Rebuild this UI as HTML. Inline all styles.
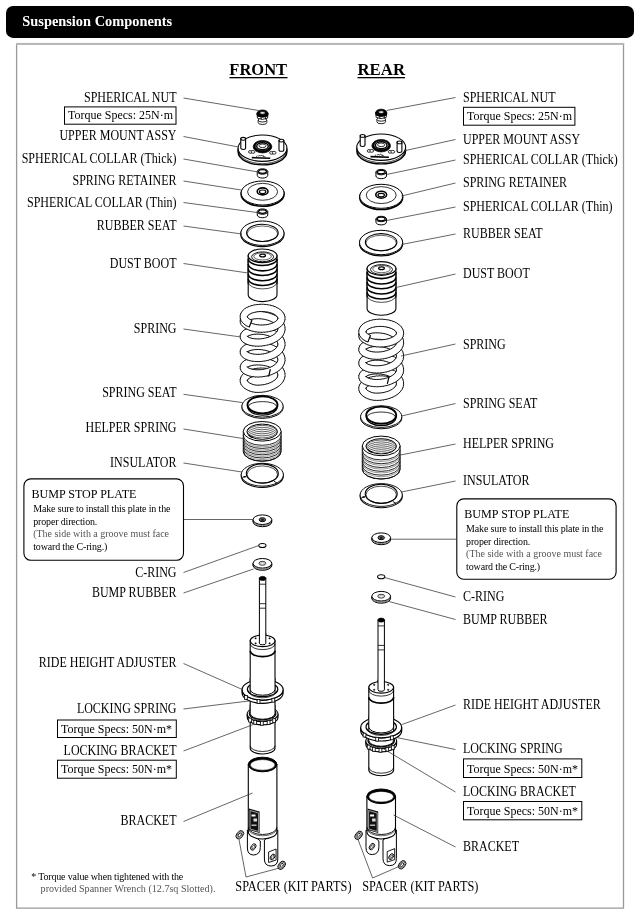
<!DOCTYPE html>
<html><head><meta charset="utf-8"><style>
html,body{margin:0;padding:0;background:#fff;}
body{width:640px;height:915px;overflow:hidden;}
svg{display:block;filter:grayscale(1);}
text{font-family:"Liberation Serif",serif;}
</style></head><body>
<svg width="640" height="915" viewBox="0 0 640 915">
<rect width="640" height="915" fill="#fff"/>
<rect x="6" y="6" width="628" height="31.9" rx="7" ry="7" fill="#000"/>
<text transform="translate(22.3,25.9) scale(1,1.08)" font-size="14.4" text-anchor="start" font-weight="bold" fill="#fff" >Suspension Components</text>
<path d="M16.6,44.2 L623.5,44.2 L623.5,908.2 L16.6,908.2 Z" fill="none" stroke="#999" stroke-width="1.3"/>
<rect x="16" y="42.9" width="608.2" height="2.1" fill="#b8b8b8"/>
<text x="229.3" y="75.3" font-size="16.5" text-anchor="start" font-weight="bold" fill="#000" >FRONT</text>
<rect x="229.5" y="77" width="58" height="1.3" fill="#000"/>
<text x="357.5" y="75.3" font-size="16.8" text-anchor="start" font-weight="bold" fill="#000" >REAR</text>
<rect x="357.5" y="77" width="47.5" height="1.3" fill="#000"/>
<path d="M258.2,120.1 L258.2,122.6 A4.3,1.9 0 0 0 266.8,122.6 L266.8,120.1 Z" fill="#fff" stroke="#000" stroke-width="0.85" />
<ellipse cx="262.5" cy="120.1" rx="4.3" ry="1.9" fill="#fff" stroke="#000" stroke-width="0.85" />
<path d="M256.9,113.6 L257.5,118.2 Q262.5,120.6 267.5,118.2 L268.1,113.6 Z" fill="#fff" stroke="#000" stroke-width="0.85" />
<path d="M261,116.5 L261.2,119.6 M265.7,116.3 L265.5,119.2" fill="none" stroke="#000" stroke-width="0.8" />
<path d="M256.9,113.6 L257.1,116.2 Q262.5,118 267.9,116.2 L268.1,113.6 Z" fill="#000"/>
<ellipse cx="262.5" cy="113.6" rx="5.6" ry="3.6" fill="#000" stroke="#000" stroke-width="0.8" />
<ellipse cx="262.5" cy="112.9" rx="2.8" ry="1.3" fill="#fff" stroke="#000" stroke-width="0.8" />
<ellipse cx="262.5" cy="151.7" rx="24.4" ry="13.2" fill="#fff" stroke="#000" stroke-width="1.4" />
<path d="M238.1,148.2 L238.1,151.7 M286.9,148.2 L286.9,151.7" fill="none" stroke="#000" stroke-width="1" />
<path d="M238.1,151.7 L238.1,148.2 A24.4,13.2 0 0 0 286.9,148.2 L286.9,151.7" fill="#fff" stroke="none"/>
<ellipse cx="262.5" cy="148.2" rx="24.4" ry="13.2" fill="#fff" stroke="#000" stroke-width="1.1" />
<path d="M238.4,150.4 A24.1,13.2 0 0 0 286.6,150.4" fill="none" stroke="#000" stroke-width="0.7" />
<path d="M240.8,138.8 L240.8,148.1 A2.4,1.4 0 0 0 245.6,148.1 L245.6,138.8 Z" fill="#fff" stroke="#000" stroke-width="1.1" />
<ellipse cx="243.2" cy="138.8" rx="2.4" ry="1.4" fill="#fff" stroke="#000" stroke-width="1.1" />
<path d="M279,140.6 L279,149.9 A2.4,1.4 0 0 0 283.8,149.9 L283.8,140.6 Z" fill="#fff" stroke="#000" stroke-width="1.1" />
<ellipse cx="281.4" cy="140.6" rx="2.4" ry="1.4" fill="#fff" stroke="#000" stroke-width="1.1" />
<ellipse cx="262.5" cy="146.7" rx="9.3" ry="6.2" fill="#000" stroke="#000" stroke-width="0.8" />
<ellipse cx="262.5" cy="146.2" rx="7.2" ry="4.4" fill="#fff" stroke="#000" stroke-width="0.8" />
<ellipse cx="262.5" cy="146.2" rx="5.8" ry="3.4" fill="#fff" stroke="#000" stroke-width="1.4" />
<ellipse cx="262.5" cy="145.8" rx="3.6" ry="1.8" fill="#fff" stroke="#000" stroke-width="0.8" />
<ellipse cx="250.4" cy="151.9" rx="1.9" ry="1.4" fill="#fff" stroke="#000" stroke-width="0.8" />
<ellipse cx="253" cy="151.9" rx="1.9" ry="1.4" fill="#fff" stroke="#000" stroke-width="0.8" />
<ellipse cx="271.5" cy="152.8" rx="1.9" ry="1.4" fill="#fff" stroke="#000" stroke-width="0.8" />
<ellipse cx="274.1" cy="152.8" rx="1.9" ry="1.4" fill="#fff" stroke="#000" stroke-width="0.8" />
<path d="M251.7,156.8 L270.3,157.6 L270.1,159 L251.9,158.4 Z" fill="#000"/>
<path d="M258.5,156.5 l1,-1.5 l1,1.2 l1.2,-1.2 l1,1.3 M263.3,155.2 l0,1.5 l2.2,0.2 M256,156.6 l1.5,-0.8" fill="none" stroke="#000" stroke-width="0.7" />
<path d="M257.25,171.5 L257.25,175.4 A5.25,2.7 0 0 0 267.75,175.4 L267.75,171.5 Z" fill="#fff" stroke="#000" stroke-width="1" />
<ellipse cx="262.5" cy="171.5" rx="5.25" ry="2.7" fill="#fff" stroke="#000" stroke-width="1" />
<ellipse cx="262.5" cy="171.5" rx="3.95" ry="1.8" fill="none" stroke="#000" stroke-width="1.3" />
<ellipse cx="262.6" cy="194.2" rx="21.45" ry="12" fill="#fff" stroke="#000" stroke-width="1.6" />
<ellipse cx="262.6" cy="193" rx="21.45" ry="12" fill="#fff" stroke="#000" stroke-width="1" />
<ellipse cx="262.6" cy="191.8" rx="15" ry="8.45" fill="none" stroke="#000" stroke-width="0.8" />
<ellipse cx="262.6" cy="191.4" rx="5.4" ry="3.5" fill="#fff" stroke="#000" stroke-width="1.6" />
<ellipse cx="262.6" cy="191.8" rx="3.2" ry="1.8" fill="#fff" stroke="#000" stroke-width="1.2" />
<path d="M257.25,211.6 L257.25,215 A5.25,2.7 0 0 0 267.75,215 L267.75,211.6 Z" fill="#fff" stroke="#000" stroke-width="1" />
<ellipse cx="262.5" cy="211.6" rx="5.25" ry="2.7" fill="#fff" stroke="#000" stroke-width="1" />
<ellipse cx="262.5" cy="211.6" rx="3.95" ry="1.8" fill="none" stroke="#000" stroke-width="1.3" />
<ellipse cx="262.4" cy="234.4" rx="21.6" ry="12.2" fill="#fff" stroke="#000" stroke-width="1.2" />
<ellipse cx="262.4" cy="233.2" rx="21.6" ry="12.2" fill="#fff" stroke="#000" stroke-width="1" />
<ellipse cx="262.4" cy="232.9" rx="15.8" ry="8.6" fill="#fff" stroke="#000" stroke-width="1.1" />
<ellipse cx="262.4" cy="233.8" rx="15.2" ry="7.8" fill="none" stroke="#000" stroke-width="0.6" />
<path d="M248.2,255.8 L248.2,294.8 A14.4,6.8 0 0 0 277,294.8 L277,255.8 Z" fill="#fff" stroke="#000" stroke-width="1.1" />
<path d="M248.2,258.77 A14.4,6.8 0 0 0 277,258.77" fill="none" stroke="#000" stroke-width="1.6" />
<path d="M248.2,264.06 A14.4,6.8 0 0 0 277,264.06" fill="none" stroke="#000" stroke-width="1.6" />
<path d="M248.2,268.75 A14.4,6.8 0 0 0 277,268.75" fill="none" stroke="#000" stroke-width="1.6" />
<path d="M248.2,273.94 A14.4,6.8 0 0 0 277,273.94" fill="none" stroke="#000" stroke-width="1.6" />
<path d="M248.2,278.73 A14.4,6.8 0 0 0 277,278.73" fill="none" stroke="#000" stroke-width="1.6" />
<path d="M248.2,259.47 Q247.4,261.97 248.2,264.47 M277,259.47 Q277.8,261.97 277,264.47" fill="none" stroke="#000" stroke-width="0.8" />
<path d="M248.2,264.46 Q247.4,266.96 248.2,269.46 M277,264.46 Q277.8,266.96 277,269.46" fill="none" stroke="#000" stroke-width="0.8" />
<path d="M248.2,269.45 Q247.4,271.95 248.2,274.45 M277,269.45 Q277.8,271.95 277,274.45" fill="none" stroke="#000" stroke-width="0.8" />
<path d="M248.2,274.44 Q247.4,276.94 248.2,279.44 M277,274.44 Q277.8,276.94 277,279.44" fill="none" stroke="#000" stroke-width="0.8" />
<path d="M248.2,279.14 Q247.4,281.64 248.2,284.14 M277,279.14 Q277.8,281.64 277,284.14" fill="none" stroke="#000" stroke-width="0.8" />
<path d="M248.2,282.12 A14.4,6.8 0 0 0 277,282.12" fill="none" stroke="#000" stroke-width="0.7" />
<ellipse cx="262.6" cy="255.8" rx="14.4" ry="6.8" fill="#fff" stroke="#000" stroke-width="1.2" />
<ellipse cx="262.6" cy="256.8" rx="11" ry="4.9" fill="#fff" stroke="#000" stroke-width="0.9" />
<ellipse cx="262.6" cy="256.4" rx="8.8" ry="3.6" fill="none" stroke="#000" stroke-width="0.6" />
<ellipse cx="262.6" cy="255.5" rx="2.9" ry="1.4" fill="#fff" stroke="#000" stroke-width="1.2" />
<path d="M260.13,368.11 L264.61,368.19 L264.08,375.37 L260.4,375.3 Z" fill="#fff"/>
<path d="M260.75,368.09 L263.99,368.15 M260.91,375.29 L263.57,375.33" fill="none" stroke="#000" stroke-width="0.9" stroke-linecap="round"/>
<path d="M263.37,368.11 L267.82,368.55 L266.7,375.67 L263.06,375.31 Z" fill="#fff"/>
<path d="M263.99,368.15 L267.21,368.46 M263.57,375.33 L266.21,375.59" fill="none" stroke="#000" stroke-width="0.9" stroke-linecap="round"/>
<path d="M256.94,368.36 L261.37,368.08 L261.41,375.28 L257.8,375.5 Z" fill="#fff"/>
<path d="M257.54,368.29 L260.75,368.09 M258.28,375.45 L260.91,375.29" fill="none" stroke="#000" stroke-width="0.9" stroke-linecap="round"/>
<path d="M266.6,368.38 L270.34,369.04 L268.73,376.06 L265.71,375.53 Z" fill="#fff"/>
<path d="M267.21,368.46 L270.34,369.04 M266.21,375.59 L268.73,376.06" fill="none" stroke="#000" stroke-width="0.9" stroke-linecap="round"/>
<path d="M253.86,368.86 L258.15,368.23 L258.78,375.4 L255.34,375.91 Z" fill="#fff"/>
<path d="M254.43,368.74 L257.54,368.29 M255.79,375.82 L258.28,375.45" fill="none" stroke="#000" stroke-width="0.9" stroke-linecap="round"/>
<path d="M250.95,369.62 L255.02,368.64 L256.25,375.73 L253.1,376.49 Z" fill="#fff"/>
<path d="M251.49,369.45 L254.43,368.74 M253.51,376.36 L255.79,375.82" fill="none" stroke="#000" stroke-width="0.9" stroke-linecap="round"/>
<path d="M248.26,370.62 L252.04,369.3 L253.93,376.25 L251.17,377.21 Z" fill="#fff"/>
<path d="M248.76,370.41 L251.49,369.45 M251.51,377.06 L253.51,376.36" fill="none" stroke="#000" stroke-width="0.9" stroke-linecap="round"/>
<path d="M245.84,371.88 L249.26,370.21 L251.87,376.92 L249.6,378.02 Z" fill="#fff"/>
<path d="M246.28,371.62 L248.76,370.41 M249.87,377.86 L251.51,377.06" fill="none" stroke="#000" stroke-width="0.9" stroke-linecap="round"/>
<path d="M263.74,358.11 L268.18,359.02 L266.34,365.98 L262.7,365.23 Z" fill="#fff"/>
<path d="M264.36,358.21 L267.58,358.86 M263.21,365.31 L265.85,365.85" fill="none" stroke="#000" stroke-width="0.9" stroke-linecap="round"/>
<path d="M260.51,357.76 L264.98,358.31 L263.72,365.4 L260.02,364.95 Z" fill="#fff"/>
<path d="M261.12,357.81 L264.36,358.21 M260.53,364.99 L263.21,365.31" fill="none" stroke="#000" stroke-width="0.9" stroke-linecap="round"/>
<path d="M266.97,358.72 L271.28,359.98 L268.84,366.76 L265.35,365.73 Z" fill="#fff"/>
<path d="M267.58,358.86 L270.7,359.78 M265.85,365.85 L268.38,366.59" fill="none" stroke="#000" stroke-width="0.9" stroke-linecap="round"/>
<path d="M257.32,357.67 L261.74,357.87 L261.04,365.03 L257.41,364.87 Z" fill="#fff"/>
<path d="M257.93,357.67 L261.12,357.81 M257.9,364.87 L260.53,364.99" fill="none" stroke="#000" stroke-width="0.9" stroke-linecap="round"/>
<path d="M270.12,359.58 L274.23,361.21 L271.13,367.71 L267.91,366.44 Z" fill="#fff"/>
<path d="M270.7,359.78 L273.68,360.95 M268.38,366.59 L270.71,367.51" fill="none" stroke="#000" stroke-width="0.9" stroke-linecap="round"/>
<path d="M254.26,357.84 L258.53,357.68 L258.39,364.88 L254.94,365 Z" fill="#fff"/>
<path d="M254.83,357.79 L257.93,357.67 M255.4,364.96 L257.9,364.87" fill="none" stroke="#000" stroke-width="0.9" stroke-linecap="round"/>
<path d="M243.73,373.41 L246.73,371.37 L250.15,377.7 L248.46,378.85 Z" fill="#fff"/>
<path d="M244.11,373.1 L246.28,371.62 M248.64,378.69 L249.87,377.86" fill="none" stroke="#000" stroke-width="0.9" stroke-linecap="round"/>
<path d="M273.13,360.71 L276.94,362.69 L273.15,368.8 L270.28,367.33 Z" fill="#fff"/>
<path d="M273.68,360.95 L276.45,362.39 M270.71,367.51 L272.79,368.59" fill="none" stroke="#000" stroke-width="0.9" stroke-linecap="round"/>
<path d="M251.36,358.24 L255.41,357.75 L255.86,364.93 L252.69,365.32 Z" fill="#fff"/>
<path d="M251.9,358.15 L254.83,357.79 M253.1,365.24 L255.4,364.96" fill="none" stroke="#000" stroke-width="0.9" stroke-linecap="round"/>
<path d="M275.94,362.09 L279.39,364.42 L274.83,370 L272.41,368.37 Z" fill="#fff"/>
<path d="M276.45,362.39 L278.94,364.07 M272.79,368.59 L274.54,369.77" fill="none" stroke="#000" stroke-width="0.9" stroke-linecap="round"/>
<path d="M241.99,375.26 L244.5,372.79 L248.84,378.54 L247.75,379.59 Z" fill="#fff"/>
<path d="M242.29,374.88 L244.11,373.1 M247.85,379.46 L248.64,378.69" fill="none" stroke="#000" stroke-width="0.9" stroke-linecap="round"/>
<path d="M248.69,358.88 L252.44,358.06 L253.52,365.18 L250.75,365.78 Z" fill="#fff"/>
<path d="M249.18,358.74 L251.9,358.15 M251.09,365.68 L253.1,365.24" fill="none" stroke="#000" stroke-width="0.9" stroke-linecap="round"/>
<path d="M278.49,363.73 L281.49,366.42 L276.13,371.23 L274.23,369.53 Z" fill="#fff"/>
<path d="M278.94,364.07 L281.12,366.02 M274.54,369.77 L275.91,371" fill="none" stroke="#000" stroke-width="0.9" stroke-linecap="round"/>
<path d="M246.26,359.77 L249.68,358.61 L251.45,365.59 L249.18,366.35 Z" fill="#fff"/>
<path d="M246.71,359.58 L249.18,358.74 M249.45,366.24 L251.09,365.68" fill="none" stroke="#000" stroke-width="0.9" stroke-linecap="round"/>
<path d="M240.74,377.47 L242.61,374.52 L247.97,379.32 L247.43,380.13 Z" fill="#fff"/>
<path d="M240.94,377.02 L242.29,374.88 M247.47,380.05 L247.85,379.46" fill="none" stroke="#000" stroke-width="0.9" stroke-linecap="round"/>
<path d="M280.73,365.63 L283.19,368.69 L277.05,372.44 L275.68,370.76 Z" fill="#fff"/>
<path d="M281.12,366.02 L282.9,368.23 M275.91,371 L276.9,372.22" fill="none" stroke="#000" stroke-width="0.9" stroke-linecap="round"/>
<path d="M244.12,360.92 L247.16,359.4 L249.73,366.13 L248.06,366.95 Z" fill="#fff"/>
<path d="M244.51,360.68 L246.71,359.58 M248.24,366.84 L249.45,366.24" fill="none" stroke="#000" stroke-width="0.9" stroke-linecap="round"/>
<path d="M263.74,342.7 L268.18,343.61 L266.34,350.57 L262.7,349.82 Z" fill="#fff"/>
<path d="M264.36,342.8 L267.58,343.45 M263.21,349.9 L265.85,350.44" fill="none" stroke="#000" stroke-width="0.9" stroke-linecap="round"/>
<path d="M260.51,342.35 L264.98,342.9 L263.72,349.99 L260.02,349.54 Z" fill="#fff"/>
<path d="M261.12,342.4 L264.36,342.8 M260.53,349.58 L263.21,349.9" fill="none" stroke="#000" stroke-width="0.9" stroke-linecap="round"/>
<path d="M240.17,379.98 L241.15,376.58 L247.52,379.95 L247.35,380.46 Z" fill="#fff"/>
<path d="M240.22,379.48 L240.94,377.02 M247.36,380.41 L247.47,380.05" fill="none" stroke="#000" stroke-width="0.9" stroke-linecap="round"/>
<path d="M266.97,343.31 L271.28,344.57 L268.84,351.34 L265.35,350.32 Z" fill="#fff"/>
<path d="M267.58,343.45 L270.7,344.37 M265.85,350.44 L268.38,351.18" fill="none" stroke="#000" stroke-width="0.9" stroke-linecap="round"/>
<path d="M257.32,342.26 L261.74,342.46 L261.04,349.62 L257.41,349.46 Z" fill="#fff"/>
<path d="M257.93,342.26 L261.12,342.4 M257.9,349.46 L260.53,349.58" fill="none" stroke="#000" stroke-width="0.9" stroke-linecap="round"/>
<path d="M282.59,367.79 L284.39,371.2 L277.59,373.58 L276.74,371.99 Z" fill="#fff"/>
<path d="M282.9,368.23 L284.2,370.7 M276.9,372.22 L277.51,373.37" fill="none" stroke="#000" stroke-width="0.9" stroke-linecap="round"/>
<path d="M270.12,344.17 L274.23,345.8 L271.13,352.3 L267.91,351.03 Z" fill="#fff"/>
<path d="M270.7,344.37 L273.68,345.54 M268.38,351.18 L270.71,352.1" fill="none" stroke="#000" stroke-width="0.9" stroke-linecap="round"/>
<path d="M254.26,342.43 L258.53,342.27 L258.39,349.47 L254.94,349.59 Z" fill="#fff"/>
<path d="M254.83,342.38 L257.93,342.26 M255.4,349.55 L257.9,349.46" fill="none" stroke="#000" stroke-width="0.9" stroke-linecap="round"/>
<path d="M242.3,362.41 L244.91,360.45 L248.43,366.72 L247.45,367.43 Z" fill="#fff"/>
<path d="M242.62,362.09 L244.51,360.68 M247.53,367.36 L248.24,366.84" fill="none" stroke="#000" stroke-width="0.9" stroke-linecap="round"/>
<path d="M273.13,345.3 L276.94,347.28 L273.15,353.39 L270.28,351.91 Z" fill="#fff"/>
<path d="M273.68,345.54 L276.45,346.97 M270.71,352.1 L272.79,353.18" fill="none" stroke="#000" stroke-width="0.9" stroke-linecap="round"/>
<path d="M251.36,342.83 L255.41,342.33 L255.86,349.52 L252.69,349.91 Z" fill="#fff"/>
<path d="M251.9,342.73 L254.83,342.38 M253.1,349.83 L255.4,349.55" fill="none" stroke="#000" stroke-width="0.9" stroke-linecap="round"/>
<path d="M240.41,382.55 L240.3,378.99 L247.37,380.36 L247.38,380.75 Z" fill="#fff"/>
<path d="M240.3,382.07 L240.22,379.48 M247.37,380.69 L247.36,380.41" fill="none" stroke="#000" stroke-width="0.9" stroke-linecap="round"/>
<path d="M283.99,370.21 L284.99,373.91 L277.83,374.63 L277.42,373.16 Z" fill="#fff"/>
<path d="M284.2,370.7 L284.93,373.38 M277.51,373.37 L277.8,374.43" fill="none" stroke="#000" stroke-width="0.9" stroke-linecap="round"/>
<path d="M275.94,346.68 L279.39,349.01 L274.83,354.59 L272.41,352.96 Z" fill="#fff"/>
<path d="M276.45,346.97 L278.94,348.66 M272.79,353.18 L274.54,354.35" fill="none" stroke="#000" stroke-width="0.9" stroke-linecap="round"/>
<path d="M248.69,343.47 L252.44,342.65 L253.52,349.77 L250.75,350.37 Z" fill="#fff"/>
<path d="M249.18,343.33 L251.9,342.73 M251.09,350.27 L253.1,349.83" fill="none" stroke="#000" stroke-width="0.9" stroke-linecap="round"/>
<path d="M240.88,364.35 L242.95,361.79 L247.63,367.27 L247.3,367.62 Z" fill="#fff"/>
<path d="M241.11,363.94 L242.62,362.09 M247.3,367.62 L247.53,367.36" fill="none" stroke="#000" stroke-width="0.9" stroke-linecap="round"/>
<path d="M278.49,348.32 L281.49,351.01 L276.13,355.82 L274.23,354.12 Z" fill="#fff"/>
<path d="M278.94,348.66 L281.12,350.61 M274.54,354.35 L275.91,355.59" fill="none" stroke="#000" stroke-width="0.9" stroke-linecap="round"/>
<path d="M284.84,372.86 L284.93,376.68 L277.81,375.64 L277.77,374.23 Z" fill="#fff"/>
<path d="M284.93,373.38 L285,376.15 M277.8,374.43 L277.83,375.44" fill="none" stroke="#000" stroke-width="0.9" stroke-linecap="round"/>
<path d="M241.4,384.9 L240.22,381.58 L247.36,380.63 L247.58,381.2 Z" fill="#fff"/>
<path d="M241.16,384.48 L240.3,382.07 M247.52,381.09 L247.37,380.69" fill="none" stroke="#000" stroke-width="0.9" stroke-linecap="round"/>
<path d="M246.26,344.36 L249.68,343.2 L251.45,350.18 L249.18,350.94 Z" fill="#fff"/>
<path d="M246.71,344.17 L249.18,343.33 M249.45,350.83 L251.09,350.27" fill="none" stroke="#000" stroke-width="0.9" stroke-linecap="round"/>
<path d="M280.73,350.22 L283.19,353.27 L277.05,357.03 L275.68,355.35 Z" fill="#fff"/>
<path d="M281.12,350.61 L282.9,352.82 M275.91,355.59 L276.9,356.81" fill="none" stroke="#000" stroke-width="0.9" stroke-linecap="round"/>
<path d="M240.17,366.79 L241.36,363.55 L247.31,367.6 L247.35,367.41 Z" fill="#fff"/>
<path d="M240.24,366.3 L241.11,363.94 M247.34,367.48 L247.3,367.62" fill="none" stroke="#000" stroke-width="0.9" stroke-linecap="round"/>
<path d="M285.04,375.62 L284.21,379.35 L277.52,376.7 L277.84,375.25 Z" fill="#fff"/>
<path d="M285,376.15 L284.4,378.86 M277.83,375.44 L277.6,376.49" fill="none" stroke="#000" stroke-width="0.9" stroke-linecap="round"/>
<path d="M242.96,386.89 L240.95,384.04 L247.47,381 L248.11,381.87 Z" fill="#fff"/>
<path d="M242.62,386.54 L241.16,384.48 M247.98,381.72 L247.52,381.09" fill="none" stroke="#000" stroke-width="0.9" stroke-linecap="round"/>
<path d="M244.12,345.51 L247.16,343.99 L249.73,350.72 L248.06,351.54 Z" fill="#fff"/>
<path d="M244.51,345.27 L246.71,344.17 M248.24,351.43 L249.45,350.83" fill="none" stroke="#000" stroke-width="0.9" stroke-linecap="round"/>
<path d="M263.74,327.29 L268.18,328.2 L266.34,335.16 L262.7,334.41 Z" fill="#fff"/>
<path d="M264.36,327.39 L267.58,328.04 M263.21,334.49 L265.85,335.03" fill="none" stroke="#000" stroke-width="0.9" stroke-linecap="round"/>
<path d="M260.51,326.94 L264.98,327.49 L263.72,334.58 L260.02,334.13 Z" fill="#fff"/>
<path d="M261.12,326.99 L264.36,327.39 M260.53,334.17 L263.21,334.49" fill="none" stroke="#000" stroke-width="0.9" stroke-linecap="round"/>
<path d="M266.97,327.9 L271.28,329.16 L268.84,335.93 L265.35,334.91 Z" fill="#fff"/>
<path d="M267.58,328.04 L270.7,328.96 M265.85,335.03 L268.38,335.77" fill="none" stroke="#000" stroke-width="0.9" stroke-linecap="round"/>
<path d="M257.32,326.85 L261.74,327.05 L261.04,334.21 L257.41,334.05 Z" fill="#fff"/>
<path d="M257.93,326.85 L261.12,326.99 M257.9,334.05 L260.53,334.17" fill="none" stroke="#000" stroke-width="0.9" stroke-linecap="round"/>
<path d="M282.59,352.38 L284.39,355.79 L277.59,358.17 L276.74,356.58 Z" fill="#fff"/>
<path d="M282.9,352.82 L284.2,355.29 M276.9,356.81 L277.51,357.96" fill="none" stroke="#000" stroke-width="0.9" stroke-linecap="round"/>
<path d="M270.12,328.76 L274.23,330.39 L271.13,336.89 L267.91,335.62 Z" fill="#fff"/>
<path d="M270.7,328.96 L273.68,330.13 M268.38,335.77 L270.71,336.69" fill="none" stroke="#000" stroke-width="0.9" stroke-linecap="round"/>
<path d="M284.56,378.35 L282.91,381.83 L276.91,377.85 L277.66,376.28 Z" fill="#fff"/>
<path d="M284.4,378.86 L283.2,381.37 M277.6,376.49 L277.05,377.62" fill="none" stroke="#000" stroke-width="0.9" stroke-linecap="round"/>
<path d="M254.26,327.01 L258.53,326.86 L258.39,334.06 L254.94,334.18 Z" fill="#fff"/>
<path d="M254.83,326.96 L257.93,326.85 M255.4,334.14 L257.9,334.05" fill="none" stroke="#000" stroke-width="0.9" stroke-linecap="round"/>
<path d="M240.48,369.35 L240.34,365.81 L247.33,367.53 L247.31,367.09 Z" fill="#fff"/>
<path d="M240.34,368.88 L240.24,366.3 M247.33,367.13 L247.34,367.48" fill="none" stroke="#000" stroke-width="0.9" stroke-linecap="round"/>
<path d="M244.92,388.55 L242.31,386.17 L247.86,381.59 L249.07,382.67 Z" fill="#fff"/>
<path d="M244.52,388.26 L242.62,386.54 M248.85,382.51 L247.98,381.72" fill="none" stroke="#000" stroke-width="0.9" stroke-linecap="round"/>
<path d="M242.3,347 L244.91,345.04 L248.43,351.31 L247.45,352.02 Z" fill="#fff"/>
<path d="M242.62,346.68 L244.51,345.27 M247.53,351.95 L248.24,351.43" fill="none" stroke="#000" stroke-width="0.9" stroke-linecap="round"/>
<path d="M273.13,329.89 L276.94,331.87 L273.15,337.98 L270.28,336.5 Z" fill="#fff"/>
<path d="M273.68,330.13 L276.45,331.56 M270.71,336.69 L272.79,337.76" fill="none" stroke="#000" stroke-width="0.9" stroke-linecap="round"/>
<path d="M251.36,327.42 L255.41,326.92 L255.86,334.11 L252.69,334.5 Z" fill="#fff"/>
<path d="M251.9,327.32 L254.83,326.96 M253.1,334.42 L255.4,334.14" fill="none" stroke="#000" stroke-width="0.9" stroke-linecap="round"/>
<path d="M283.99,354.8 L284.99,358.5 L277.83,359.22 L277.42,357.75 Z" fill="#fff"/>
<path d="M284.2,355.29 L284.93,357.97 M277.51,357.96 L277.8,359.02" fill="none" stroke="#000" stroke-width="0.9" stroke-linecap="round"/>
<path d="M283.47,380.91 L281.13,384.04 L275.92,379.07 L277.18,377.4 Z" fill="#fff"/>
<path d="M283.2,381.37 L281.51,383.64 M277.05,377.62 L276.14,378.84" fill="none" stroke="#000" stroke-width="0.9" stroke-linecap="round"/>
<path d="M275.94,331.27 L279.39,333.6 L274.83,339.18 L272.41,337.55 Z" fill="#fff"/>
<path d="M276.45,331.56 L278.94,333.25 M272.79,337.76 L274.54,338.94" fill="none" stroke="#000" stroke-width="0.9" stroke-linecap="round"/>
<path d="M247.22,389.92 L244.13,387.96 L248.65,382.35 L250.47,383.5 Z" fill="#fff"/>
<path d="M246.75,389.68 L244.52,388.26 M250.17,383.34 L248.85,382.51" fill="none" stroke="#000" stroke-width="0.9" stroke-linecap="round"/>
<path d="M248.69,328.06 L252.44,327.24 L253.52,334.36 L250.75,334.96 Z" fill="#fff"/>
<path d="M249.18,327.92 L251.9,327.32 M251.09,334.86 L253.1,334.42" fill="none" stroke="#000" stroke-width="0.9" stroke-linecap="round"/>
<path d="M241.64,371.51 L240.24,368.4 L247.34,367.19 L247.34,367.11 Z" fill="#fff"/>
<path d="M241.37,371.14 L240.34,368.88 M247.31,367.07 L247.33,367.13" fill="none" stroke="#000" stroke-width="0.9" stroke-linecap="round"/>
<path d="M240.88,348.94 L242.95,346.38 L247.63,351.86 L247.3,352.21 Z" fill="#fff"/>
<path d="M241.11,348.53 L242.62,346.68 M247.3,352.21 L247.53,351.95" fill="none" stroke="#000" stroke-width="0.9" stroke-linecap="round"/>
<path d="M278.49,332.91 L281.49,335.6 L276.13,340.41 L274.23,338.71 Z" fill="#fff"/>
<path d="M278.94,333.25 L281.12,335.2 M274.54,338.94 L275.91,340.18" fill="none" stroke="#000" stroke-width="0.9" stroke-linecap="round"/>
<path d="M284.84,357.45 L284.93,361.27 L277.81,360.23 L277.77,358.82 Z" fill="#fff"/>
<path d="M284.93,357.97 L285,360.74 M277.8,359.02 L277.83,360.03" fill="none" stroke="#000" stroke-width="0.9" stroke-linecap="round"/>
<path d="M281.86,383.23 L278.96,385.99 L274.55,380.3 L276.35,378.6 Z" fill="#fff"/>
<path d="M281.51,383.64 L279.41,385.64 M276.14,378.84 L274.84,380.07" fill="none" stroke="#000" stroke-width="0.9" stroke-linecap="round"/>
<path d="M249.8,391.03 L246.3,389.43 L249.88,383.19 L252.25,384.27 Z" fill="#fff"/>
<path d="M249.28,390.84 L246.75,389.68 M251.89,384.13 L250.17,383.34" fill="none" stroke="#000" stroke-width="0.9" stroke-linecap="round"/>
<path d="M246.26,328.95 L249.68,327.79 L251.45,334.77 L249.18,335.53 Z" fill="#fff"/>
<path d="M246.71,328.76 L249.18,327.92 M249.45,335.42 L251.09,334.86" fill="none" stroke="#000" stroke-width="0.9" stroke-linecap="round"/>
<path d="M243.32,373.17 L241.12,370.75 L247.3,367.05 L247.75,367.5 Z" fill="#fff"/>
<path d="M242.97,372.89 L241.37,371.14 M247.63,367.4 L247.31,367.07" fill="none" stroke="#000" stroke-width="0.9" stroke-linecap="round"/>
<path d="M279.84,385.28 L276.47,387.68 L272.8,381.48 L275.12,379.84 Z" fill="#fff"/>
<path d="M279.41,385.64 L276.97,387.38 M274.84,380.07 L273.16,381.27" fill="none" stroke="#000" stroke-width="0.9" stroke-linecap="round"/>
<path d="M280.73,334.81 L283.19,337.86 L277.05,341.62 L275.68,339.94 Z" fill="#fff"/>
<path d="M281.12,335.2 L282.9,337.41 M275.91,340.18 L276.9,341.4" fill="none" stroke="#000" stroke-width="0.9" stroke-linecap="round"/>
<path d="M240.17,351.38 L241.36,348.14 L247.31,352.19 L247.35,352 Z" fill="#fff"/>
<path d="M240.24,350.89 L241.11,348.53 M247.34,352.06 L247.3,352.21" fill="none" stroke="#000" stroke-width="0.9" stroke-linecap="round"/>
<path d="M252.62,391.89 L248.78,390.64 L251.53,383.99 L254.37,384.91 Z" fill="#fff"/>
<path d="M252.06,391.75 L249.28,390.84 M253.95,384.8 L251.89,384.13" fill="none" stroke="#000" stroke-width="0.9" stroke-linecap="round"/>
<path d="M285.04,360.21 L284.21,363.94 L277.52,361.29 L277.84,359.84 Z" fill="#fff"/>
<path d="M285,360.74 L284.4,363.45 M277.83,360.03 L277.6,361.08" fill="none" stroke="#000" stroke-width="0.9" stroke-linecap="round"/>
<path d="M244.12,330.1 L247.16,328.58 L249.73,335.31 L248.06,336.13 Z" fill="#fff"/>
<path d="M244.51,329.86 L246.71,328.76 M248.24,336.02 L249.45,335.42" fill="none" stroke="#000" stroke-width="0.9" stroke-linecap="round"/>
<path d="M263.74,311.88 L268.18,312.79 L266.34,319.75 L262.7,319 Z" fill="#fff"/>
<path d="M264.36,311.97 L267.58,312.63 M263.21,319.08 L265.85,319.62" fill="none" stroke="#000" stroke-width="0.9" stroke-linecap="round"/>
<path d="M277.46,387.07 L273.71,389.11 L270.73,382.56 L273.51,381.04 Z" fill="#fff"/>
<path d="M276.97,387.38 L274.25,388.86 M273.16,381.27 L271.15,382.36" fill="none" stroke="#000" stroke-width="0.9" stroke-linecap="round"/>
<path d="M260.51,311.53 L264.98,312.08 L263.72,319.17 L260.02,318.72 Z" fill="#fff"/>
<path d="M261.12,311.58 L264.36,311.97 M260.53,318.75 L263.21,319.08" fill="none" stroke="#000" stroke-width="0.9" stroke-linecap="round"/>
<path d="M256.02,392.37 L251.52,391.6 L253.53,384.68 L256.35,385.18 Z" fill="#fff"/>
<path d="M255.44,392.34 L252.06,391.75 M255.88,385.15 L253.95,384.8" fill="none" stroke="#000" stroke-width="0.9" stroke-linecap="round"/>
<path d="M266.97,312.49 L271.28,313.75 L268.84,320.52 L265.35,319.5 Z" fill="#fff"/>
<path d="M267.58,312.63 L270.7,313.55 M265.85,319.62 L268.38,320.36" fill="none" stroke="#000" stroke-width="0.9" stroke-linecap="round"/>
<path d="M257.32,311.44 L261.74,311.63 L261.04,318.8 L257.41,318.64 Z" fill="#fff"/>
<path d="M257.93,311.44 L261.12,311.58 M257.9,318.64 L260.53,318.75" fill="none" stroke="#000" stroke-width="0.9" stroke-linecap="round"/>
<path d="M282.59,336.97 L284.39,340.38 L277.59,342.76 L276.74,341.17 Z" fill="#fff"/>
<path d="M282.9,337.41 L284.2,339.88 M276.9,341.4 L277.51,342.55" fill="none" stroke="#000" stroke-width="0.9" stroke-linecap="round"/>
<path d="M245.33,374.45 L242.63,372.59 L247.53,367.32 L248.65,368.06 Z" fill="#fff"/>
<path d="M244.93,374.23 L242.97,372.89 M248.44,367.95 L247.63,367.4" fill="none" stroke="#000" stroke-width="0.9" stroke-linecap="round"/>
<path d="M270.12,313.35 L274.23,314.98 L271.13,321.48 L267.91,320.2 Z" fill="#fff"/>
<path d="M270.7,313.55 L273.68,314.72 M268.38,320.36 L270.71,321.28" fill="none" stroke="#000" stroke-width="0.9" stroke-linecap="round"/>
<path d="M274.79,388.6 L270.73,390.29 L268.4,383.48 L271.56,382.16 Z" fill="#fff"/>
<path d="M274.25,388.86 L271.31,390.09 M271.15,382.36 L268.86,383.32" fill="none" stroke="#000" stroke-width="0.9" stroke-linecap="round"/>
<path d="M259.17,392.38 L254.86,392.3 L255.42,385.12 L258.92,385.19 Z" fill="#fff"/>
<path d="M258.56,392.4 L255.44,392.34 M258.42,385.2 L255.88,385.15" fill="none" stroke="#000" stroke-width="0.9" stroke-linecap="round"/>
<path d="M284.56,362.94 L282.91,366.42 L276.91,362.44 L277.66,360.87 Z" fill="#fff"/>
<path d="M284.4,363.45 L283.2,365.96 M277.6,361.08 L277.05,362.21" fill="none" stroke="#000" stroke-width="0.9" stroke-linecap="round"/>
<path d="M254.26,311.6 L258.53,311.45 L258.39,318.65 L254.94,318.77 Z" fill="#fff"/>
<path d="M254.83,311.55 L257.93,311.44 M255.4,318.73 L257.9,318.64" fill="none" stroke="#000" stroke-width="0.9" stroke-linecap="round"/>
<path d="M240.48,353.94 L240.34,350.4 L247.33,352.12 L247.31,351.68 Z" fill="#fff"/>
<path d="M240.34,353.47 L240.24,350.89 M247.33,351.72 L247.34,352.06" fill="none" stroke="#000" stroke-width="0.9" stroke-linecap="round"/>
<path d="M271.89,389.87 L267.6,391.21 L265.87,384.22 L269.32,383.15 Z" fill="#fff"/>
<path d="M271.31,390.09 L268.21,391.05 M268.86,383.32 L266.37,384.09" fill="none" stroke="#000" stroke-width="0.9" stroke-linecap="round"/>
<path d="M262.39,392.14 L257.95,392.41 L257.92,385.21 L261.58,384.99 Z" fill="#fff"/>
<path d="M261.77,392.21 L258.56,392.4 M261.06,385.04 L258.42,385.2" fill="none" stroke="#000" stroke-width="0.9" stroke-linecap="round"/>
<path d="M242.3,331.59 L244.91,329.63 L248.43,335.9 L247.45,336.61 Z" fill="#fff"/>
<path d="M242.62,331.27 L244.51,329.86 M247.53,336.54 L248.24,336.02" fill="none" stroke="#000" stroke-width="0.9" stroke-linecap="round"/>
<path d="M273.13,314.48 L276.94,316.46 L273.15,322.57 L270.28,321.09 Z" fill="#fff"/>
<path d="M273.68,314.72 L276.45,316.15 M270.71,321.28 L272.79,322.35" fill="none" stroke="#000" stroke-width="0.9" stroke-linecap="round"/>
<path d="M268.81,390.89 L264.39,391.87 L263.23,384.76 L266.85,383.96 Z" fill="#fff"/>
<path d="M268.21,391.05 L265.01,391.76 M266.37,384.09 L263.74,384.67" fill="none" stroke="#000" stroke-width="0.9" stroke-linecap="round"/>
<path d="M265.62,391.65 L261.15,392.27 L260.55,385.09 L264.25,384.58 Z" fill="#fff"/>
<path d="M265.01,391.76 L261.77,392.21 M263.74,384.67 L261.06,385.04" fill="none" stroke="#000" stroke-width="0.9" stroke-linecap="round"/>
<path d="M251.36,312.01 L255.41,311.51 L255.86,318.7 L252.69,319.09 Z" fill="#fff"/>
<path d="M251.9,311.91 L254.83,311.55 M253.1,319.01 L255.4,318.73" fill="none" stroke="#000" stroke-width="0.9" stroke-linecap="round"/>
<path d="M283.99,339.39 L284.99,343.08 L277.83,343.8 L277.42,342.34 Z" fill="#fff"/>
<path d="M284.2,339.88 L284.93,342.56 M277.51,342.55 L277.8,343.61" fill="none" stroke="#000" stroke-width="0.9" stroke-linecap="round"/>
<path d="M247.64,375.44 L244.53,374 L248.25,367.84 L250.04,368.66 Z" fill="#fff"/>
<path d="M247.18,375.28 L244.93,374.23 M249.74,368.55 L248.44,367.95" fill="none" stroke="#000" stroke-width="0.9" stroke-linecap="round"/>
<path d="M283.47,365.5 L281.13,368.63 L275.92,363.66 L277.18,361.99 Z" fill="#fff"/>
<path d="M283.2,365.96 L281.51,368.23 M277.05,362.21 L276.14,363.42" fill="none" stroke="#000" stroke-width="0.9" stroke-linecap="round"/>
<path d="M275.94,315.86 L279.39,318.19 L274.83,323.77 L272.41,322.14 Z" fill="#fff"/>
<path d="M276.45,316.15 L278.94,317.84 M272.79,322.35 L274.54,323.53" fill="none" stroke="#000" stroke-width="0.9" stroke-linecap="round"/>
<path d="M248.69,312.65 L252.44,311.83 L253.52,318.95 L250.75,319.55 Z" fill="#fff"/>
<path d="M249.18,312.51 L251.9,311.91 M251.09,319.45 L253.1,319.01" fill="none" stroke="#000" stroke-width="0.9" stroke-linecap="round"/>
<path d="M260.13,304.32 L264.61,304.4 L264.08,311.58 L260.4,311.51 Z" fill="#fff"/>
<path d="M260.75,304.3 L263.99,304.36 M260.91,311.5 L263.57,311.55" fill="none" stroke="#000" stroke-width="0.9" stroke-linecap="round"/>
<path d="M241.64,356.1 L240.24,352.99 L247.34,351.78 L247.34,351.7 Z" fill="#fff"/>
<path d="M241.37,355.73 L240.34,353.47 M247.31,351.66 L247.33,351.72" fill="none" stroke="#000" stroke-width="0.9" stroke-linecap="round"/>
<path d="M263.37,304.33 L267.82,304.77 L266.7,311.88 L263.06,311.52 Z" fill="#fff"/>
<path d="M263.99,304.36 L267.21,304.68 M263.57,311.55 L266.21,311.81" fill="none" stroke="#000" stroke-width="0.9" stroke-linecap="round"/>
<path d="M256.94,304.57 L261.37,304.29 L261.41,311.49 L257.8,311.72 Z" fill="#fff"/>
<path d="M257.54,304.5 L260.75,304.3 M258.28,311.66 L260.91,311.5" fill="none" stroke="#000" stroke-width="0.9" stroke-linecap="round"/>
<path d="M240.88,333.53 L242.95,330.97 L247.63,336.45 L247.3,336.8 Z" fill="#fff"/>
<path d="M241.11,333.12 L242.62,331.27 M247.3,336.8 L247.53,336.54" fill="none" stroke="#000" stroke-width="0.9" stroke-linecap="round"/>
<path d="M266.6,304.6 L270.93,305.39 L269.2,312.38 L265.71,311.74 Z" fill="#fff"/>
<path d="M267.21,304.68 L270.34,305.25 M266.21,311.81 L268.73,312.27" fill="none" stroke="#000" stroke-width="0.9" stroke-linecap="round"/>
<path d="M253.86,305.07 L258.15,304.44 L258.78,311.61 L255.34,312.12 Z" fill="#fff"/>
<path d="M254.43,304.96 L257.54,304.5 M255.79,312.03 L258.28,311.66" fill="none" stroke="#000" stroke-width="0.9" stroke-linecap="round"/>
<path d="M278.49,317.5 L281.49,320.19 L276.13,325 L274.23,323.3 Z" fill="#fff"/>
<path d="M278.94,317.84 L281.12,319.79 M274.54,323.53 L275.91,324.77" fill="none" stroke="#000" stroke-width="0.9" stroke-linecap="round"/>
<path d="M284.84,342.04 L284.93,345.85 L277.81,344.82 L277.77,343.41 Z" fill="#fff"/>
<path d="M284.93,342.56 L285,345.33 M277.8,343.61 L277.83,344.62" fill="none" stroke="#000" stroke-width="0.9" stroke-linecap="round"/>
<path d="M250.21,376.19 L246.73,375.1 L249.46,368.43 L251.84,369.17 Z" fill="#fff"/>
<path d="M249.7,376.06 L247.18,375.28 M251.47,369.08 L249.74,368.55" fill="none" stroke="#000" stroke-width="0.9" stroke-linecap="round"/>
<path d="M281.86,367.82 L278.96,370.58 L274.55,364.89 L276.35,363.19 Z" fill="#fff"/>
<path d="M281.51,368.23 L279.41,370.23 M276.14,363.42 L274.84,364.66" fill="none" stroke="#000" stroke-width="0.9" stroke-linecap="round"/>
<path d="M269.76,305.12 L273.88,306.27 L271.48,313.06 L268.26,312.17 Z" fill="#fff"/>
<path d="M270.34,305.25 L273.33,306.08 M268.73,312.27 L271.06,312.92" fill="none" stroke="#000" stroke-width="0.9" stroke-linecap="round"/>
<path d="M246.26,313.54 L249.68,312.38 L251.45,319.36 L249.18,320.12 Z" fill="#fff"/>
<path d="M246.71,313.35 L249.18,312.51 M249.45,320.01 L251.09,319.45" fill="none" stroke="#000" stroke-width="0.9" stroke-linecap="round"/>
<path d="M250.95,305.83 L255.02,304.85 L256.25,311.94 L253.1,312.7 Z" fill="#fff"/>
<path d="M251.49,305.66 L254.43,304.96 M253.51,312.58 L255.79,312.03" fill="none" stroke="#000" stroke-width="0.9" stroke-linecap="round"/>
<path d="M243.32,357.76 L241.12,355.34 L247.3,351.64 L247.75,352.08 Z" fill="#fff"/>
<path d="M242.97,357.48 L241.37,355.73 M247.63,351.99 L247.31,351.66" fill="none" stroke="#000" stroke-width="0.9" stroke-linecap="round"/>
<path d="M272.77,305.91 L276.61,307.4 L273.48,313.89 L270.64,312.78 Z" fill="#fff"/>
<path d="M273.33,306.08 L276.11,307.17 M271.06,312.92 L273.12,313.72" fill="none" stroke="#000" stroke-width="0.9" stroke-linecap="round"/>
<path d="M279.84,369.87 L276.47,372.27 L272.8,366.07 L275.12,364.42 Z" fill="#fff"/>
<path d="M279.41,370.23 L276.97,371.97 M274.84,364.66 L273.16,365.85" fill="none" stroke="#000" stroke-width="0.9" stroke-linecap="round"/>
<path d="M280.73,319.4 L283.19,322.45 L277.05,326.21 L275.68,324.53 Z" fill="#fff"/>
<path d="M281.12,319.79 L282.9,322 M275.91,324.77 L276.9,325.99" fill="none" stroke="#000" stroke-width="0.9" stroke-linecap="round"/>
<path d="M253.02,376.69 L249.2,375.93 L251.11,368.99 L253.97,369.56 Z" fill="#fff"/>
<path d="M252.47,376.62 L249.7,376.06 M253.54,369.49 L251.47,369.08" fill="none" stroke="#000" stroke-width="0.9" stroke-linecap="round"/>
<path d="M240.17,335.97 L241.36,332.73 L247.31,336.78 L247.35,336.59 Z" fill="#fff"/>
<path d="M240.24,335.47 L241.11,333.12 M247.34,336.65 L247.3,336.8" fill="none" stroke="#000" stroke-width="0.9" stroke-linecap="round"/>
<path d="M285.04,344.8 L284.21,348.53 L277.52,345.88 L277.84,344.43 Z" fill="#fff"/>
<path d="M285,345.33 L284.4,348.03 M277.83,344.62 L277.6,345.67" fill="none" stroke="#000" stroke-width="0.9" stroke-linecap="round"/>
<path d="M248.26,306.83 L252.04,305.51 L253.93,312.46 L251.17,313.42 Z" fill="#fff"/>
<path d="M248.76,306.62 L251.49,305.66 M251.51,313.27 L253.51,312.58" fill="none" stroke="#000" stroke-width="0.9" stroke-linecap="round"/>
<path d="M244.12,314.69 L247.16,313.17 L249.73,319.9 L248.06,320.72 Z" fill="#fff"/>
<path d="M244.51,314.45 L246.71,313.35 M248.24,320.61 L249.45,320.01" fill="none" stroke="#000" stroke-width="0.9" stroke-linecap="round"/>
<path d="M275.59,306.94 L279.08,308.79 L275.14,314.82 L272.75,313.56 Z" fill="#fff"/>
<path d="M276.11,307.17 L278.63,308.51 M273.12,313.72 L274.85,314.63" fill="none" stroke="#000" stroke-width="0.9" stroke-linecap="round"/>
<path d="M277.46,371.65 L273.71,373.7 L270.73,367.15 L273.51,365.63 Z" fill="#fff"/>
<path d="M276.97,371.97 L274.25,373.45 M273.16,365.85 L271.15,366.95" fill="none" stroke="#000" stroke-width="0.9" stroke-linecap="round"/>
<path d="M256.02,376.96 L251.92,376.53 L253.12,369.43 L256.35,369.76 Z" fill="#fff"/>
<path d="M255.44,376.93 L252.47,376.62 M255.88,369.74 L253.54,369.49" fill="none" stroke="#000" stroke-width="0.9" stroke-linecap="round"/>
<path d="M282.59,321.56 L284.39,324.97 L277.59,327.35 L276.74,325.76 Z" fill="#fff"/>
<path d="M282.9,322 L284.2,324.47 M276.9,325.99 L277.51,327.14" fill="none" stroke="#000" stroke-width="0.9" stroke-linecap="round"/>
<path d="M245.84,308.09 L249.26,306.42 L251.87,313.13 L249.6,314.23 Z" fill="#fff"/>
<path d="M246.28,307.83 L248.76,306.62 M249.87,314.07 L251.51,313.27" fill="none" stroke="#000" stroke-width="0.9" stroke-linecap="round"/>
<path d="M245.33,359.04 L242.63,357.18 L247.53,351.9 L248.65,352.65 Z" fill="#fff"/>
<path d="M244.93,358.82 L242.97,357.48 M248.44,352.54 L247.63,351.99" fill="none" stroke="#000" stroke-width="0.9" stroke-linecap="round"/>
<path d="M274.79,373.19 L270.73,374.88 L268.4,368.07 L271.56,366.75 Z" fill="#fff"/>
<path d="M274.25,373.45 L271.31,374.68 M271.15,366.95 L268.86,367.91" fill="none" stroke="#000" stroke-width="0.9" stroke-linecap="round"/>
<path d="M259.17,376.97 L254.86,376.89 L255.42,369.71 L258.92,369.78 Z" fill="#fff"/>
<path d="M258.56,376.99 L255.44,376.93 M258.42,369.79 L255.88,369.74" fill="none" stroke="#000" stroke-width="0.9" stroke-linecap="round"/>
<path d="M284.56,347.53 L282.91,351 L276.91,347.03 L277.66,345.46 Z" fill="#fff"/>
<path d="M284.4,348.03 L283.2,350.55 M277.6,345.67 L277.05,346.8" fill="none" stroke="#000" stroke-width="0.9" stroke-linecap="round"/>
<path d="M240.48,338.53 L240.34,334.99 L247.33,336.71 L247.31,336.27 Z" fill="#fff"/>
<path d="M240.34,338.06 L240.24,335.47 M247.33,336.31 L247.34,336.65" fill="none" stroke="#000" stroke-width="0.9" stroke-linecap="round"/>
<path d="M278.17,308.23 L281.23,310.45 L276.39,315.78 L274.55,314.45 Z" fill="#fff"/>
<path d="M278.63,308.51 L280.85,310.11 M274.85,314.63 L276.18,315.59" fill="none" stroke="#000" stroke-width="0.9" stroke-linecap="round"/>
<path d="M271.89,374.46 L267.6,375.8 L265.87,368.81 L269.32,367.74 Z" fill="#fff"/>
<path d="M271.31,374.68 L268.21,375.64 M268.86,367.91 L266.37,368.68" fill="none" stroke="#000" stroke-width="0.9" stroke-linecap="round"/>
<path d="M262.39,376.73 L257.95,377 L257.92,369.8 L261.58,369.58 Z" fill="#fff"/>
<path d="M261.77,376.8 L258.56,376.99 M261.06,369.63 L258.42,369.79" fill="none" stroke="#000" stroke-width="0.9" stroke-linecap="round"/>
<path d="M242.3,316.18 L244.91,314.21 L248.43,320.49 L247.45,321.2 Z" fill="#fff"/>
<path d="M242.62,315.86 L244.51,314.45 M247.53,321.13 L248.24,320.61" fill="none" stroke="#000" stroke-width="0.9" stroke-linecap="round"/>
<path d="M268.81,375.48 L264.39,376.46 L263.23,369.35 L266.85,368.55 Z" fill="#fff"/>
<path d="M268.21,375.64 L265.01,376.35 M266.37,368.68 L263.74,369.26" fill="none" stroke="#000" stroke-width="0.9" stroke-linecap="round"/>
<path d="M265.62,376.24 L261.15,376.86 L260.55,369.68 L264.25,369.17 Z" fill="#fff"/>
<path d="M265.01,376.35 L261.77,376.8 M263.74,369.26 L261.06,369.63" fill="none" stroke="#000" stroke-width="0.9" stroke-linecap="round"/>
<path d="M243.73,309.63 L246.73,307.58 L250.15,313.92 L248.46,315.06 Z" fill="#fff"/>
<path d="M244.11,309.31 L246.28,307.83 M248.64,314.9 L249.87,314.07" fill="none" stroke="#000" stroke-width="0.9" stroke-linecap="round"/>
<path d="M283.99,323.98 L284.99,327.67 L277.83,328.39 L277.42,326.93 Z" fill="#fff"/>
<path d="M284.2,324.47 L284.93,327.15 M277.51,327.14 L277.8,328.2" fill="none" stroke="#000" stroke-width="0.9" stroke-linecap="round"/>
<path d="M247.64,360.03 L244.53,358.59 L248.25,352.43 L250.04,353.25 Z" fill="#fff"/>
<path d="M247.18,359.86 L244.93,358.82 M249.74,353.14 L248.44,352.54" fill="none" stroke="#000" stroke-width="0.9" stroke-linecap="round"/>
<path d="M283.47,350.09 L281.13,353.22 L275.92,348.25 L277.18,346.58 Z" fill="#fff"/>
<path d="M283.2,350.55 L281.51,352.82 M277.05,346.8 L276.14,348.01" fill="none" stroke="#000" stroke-width="0.9" stroke-linecap="round"/>
<path d="M280.45,309.78 L283.01,312.4 L277.22,316.68 L275.96,315.41 Z" fill="#fff"/>
<path d="M280.85,310.11 L282.7,312 M276.18,315.59 L277.1,316.52" fill="none" stroke="#000" stroke-width="0.9" stroke-linecap="round"/>
<path d="M241.64,340.69 L240.24,337.57 L247.34,336.37 L247.34,336.29 Z" fill="#fff"/>
<path d="M241.37,340.32 L240.34,338.06 M247.31,336.25 L247.33,336.31" fill="none" stroke="#000" stroke-width="0.9" stroke-linecap="round"/>
<path d="M240.88,318.12 L242.95,315.56 L247.63,321.04 L247.3,321.39 Z" fill="#fff"/>
<path d="M241.11,317.71 L242.62,315.86 M247.3,321.39 L247.53,321.13" fill="none" stroke="#000" stroke-width="0.9" stroke-linecap="round"/>
<path d="M241.99,311.48 L244.5,309.01 L248.84,314.75 L247.75,315.8 Z" fill="#fff"/>
<path d="M242.29,311.1 L244.11,309.31 M247.85,315.67 L248.64,314.9" fill="none" stroke="#000" stroke-width="0.9" stroke-linecap="round"/>
<path d="M284.84,326.62 L284.93,330.44 L277.81,329.41 L277.77,328 Z" fill="#fff"/>
<path d="M284.93,327.15 L285,329.92 M277.8,328.2 L277.83,329.21" fill="none" stroke="#000" stroke-width="0.9" stroke-linecap="round"/>
<path d="M250.21,360.78 L246.73,359.69 L249.46,353.02 L251.84,353.76 Z" fill="#fff"/>
<path d="M249.7,360.65 L247.18,359.86 M251.47,353.67 L249.74,353.14" fill="none" stroke="#000" stroke-width="0.9" stroke-linecap="round"/>
<path d="M281.86,352.4 L278.96,355.17 L274.55,349.48 L276.35,347.78 Z" fill="#fff"/>
<path d="M281.51,352.82 L279.41,354.82 M276.14,348.01 L274.84,349.25" fill="none" stroke="#000" stroke-width="0.9" stroke-linecap="round"/>
<path d="M282.38,311.62 L284.31,314.66 L277.67,317.45 L276.95,316.35 Z" fill="#fff"/>
<path d="M282.7,312 L284.1,314.21 M277.1,316.52 L277.61,317.32" fill="none" stroke="#000" stroke-width="0.9" stroke-linecap="round"/>
<path d="M243.32,342.35 L241.12,339.93 L247.3,336.23 L247.75,336.67 Z" fill="#fff"/>
<path d="M242.97,342.07 L241.37,340.32 M247.63,336.58 L247.31,336.25" fill="none" stroke="#000" stroke-width="0.9" stroke-linecap="round"/>
<path d="M279.84,354.46 L276.47,356.86 L272.8,350.66 L275.12,349.01 Z" fill="#fff"/>
<path d="M279.41,354.82 L276.97,356.56 M274.84,349.25 L273.16,350.44" fill="none" stroke="#000" stroke-width="0.9" stroke-linecap="round"/>
<path d="M253.02,361.28 L249.2,360.52 L251.11,353.58 L253.97,354.14 Z" fill="#fff"/>
<path d="M252.47,361.2 L249.7,360.65 M253.54,354.08 L251.47,353.67" fill="none" stroke="#000" stroke-width="0.9" stroke-linecap="round"/>
<path d="M240.17,320.56 L241.36,317.32 L247.31,321.37 L247.35,321.18 Z" fill="#fff"/>
<path d="M240.24,320.06 L241.11,317.71 M247.34,321.24 L247.3,321.39" fill="none" stroke="#000" stroke-width="0.9" stroke-linecap="round"/>
<path d="M240.74,313.68 L242.61,310.73 L247.97,315.53 L247.43,316.34 Z" fill="#fff"/>
<path d="M240.94,313.23 L242.29,311.1 M247.47,316.26 L247.85,315.67" fill="none" stroke="#000" stroke-width="0.9" stroke-linecap="round"/>
<path d="M285.04,329.39 L284.21,333.12 L277.52,330.47 L277.84,329.02 Z" fill="#fff"/>
<path d="M285,329.92 L284.4,332.62 M277.83,329.21 L277.6,330.26" fill="none" stroke="#000" stroke-width="0.9" stroke-linecap="round"/>
<path d="M277.46,356.24 L273.71,358.29 L270.73,351.74 L273.51,350.22 Z" fill="#fff"/>
<path d="M276.97,356.56 L274.25,358.04 M273.16,350.44 L271.15,351.54" fill="none" stroke="#000" stroke-width="0.9" stroke-linecap="round"/>
<path d="M283.88,313.76 L284.99,317.2 L277.84,318.05 L277.54,317.18 Z" fill="#fff"/>
<path d="M284.1,314.21 L284.91,316.7 M277.61,317.32 L277.82,317.95" fill="none" stroke="#000" stroke-width="0.9" stroke-linecap="round"/>
<path d="M256.02,361.55 L251.92,361.12 L253.12,354.02 L256.35,354.35 Z" fill="#fff"/>
<path d="M255.44,361.51 L252.47,361.2 M255.88,354.33 L253.54,354.08" fill="none" stroke="#000" stroke-width="0.9" stroke-linecap="round"/>
<path d="M245.33,343.63 L242.63,341.77 L247.53,336.49 L248.65,337.24 Z" fill="#fff"/>
<path d="M244.93,343.41 L242.97,342.07 M248.44,337.13 L247.63,336.58" fill="none" stroke="#000" stroke-width="0.9" stroke-linecap="round"/>
<path d="M274.79,357.78 L270.73,359.47 L268.4,352.66 L271.56,351.34 Z" fill="#fff"/>
<path d="M274.25,358.04 L271.31,359.26 M271.15,351.54 L268.86,352.5" fill="none" stroke="#000" stroke-width="0.9" stroke-linecap="round"/>
<path d="M259.17,361.56 L254.86,361.47 L255.42,354.3 L258.92,354.37 Z" fill="#fff"/>
<path d="M258.56,361.58 L255.44,361.51 M258.42,354.38 L255.88,354.33" fill="none" stroke="#000" stroke-width="0.9" stroke-linecap="round"/>
<path d="M284.56,332.12 L282.91,335.59 L276.91,331.62 L277.66,330.05 Z" fill="#fff"/>
<path d="M284.4,332.62 L283.2,335.14 M277.6,330.26 L277.05,331.39" fill="none" stroke="#000" stroke-width="0.9" stroke-linecap="round"/>
<path d="M240.17,316.19 L241.15,312.8 L247.52,316.16 L247.35,316.68 Z" fill="#fff"/>
<path d="M240.22,315.7 L240.94,313.23 M247.36,316.63 L247.47,316.26" fill="none" stroke="#000" stroke-width="0.9" stroke-linecap="round"/>
<path d="M240.48,323.12 L240.34,319.58 L247.33,321.3 L247.31,320.86 Z" fill="#fff"/>
<path d="M240.34,322.65 L240.24,320.06 M247.33,320.9 L247.34,321.24" fill="none" stroke="#000" stroke-width="0.9" stroke-linecap="round"/>
<path d="M271.89,359.05 L267.6,360.39 L265.87,353.4 L269.32,352.33 Z" fill="#fff"/>
<path d="M271.31,359.26 L268.21,360.23 M268.86,352.5 L266.37,353.27" fill="none" stroke="#000" stroke-width="0.9" stroke-linecap="round"/>
<path d="M262.39,361.32 L257.95,361.59 L257.92,354.39 L261.58,354.17 Z" fill="#fff"/>
<path d="M261.77,361.39 L258.56,361.58 M261.06,354.22 L258.42,354.38" fill="none" stroke="#000" stroke-width="0.9" stroke-linecap="round"/>
<path d="M268.81,360.07 L264.39,361.05 L263.23,353.94 L266.85,353.14 Z" fill="#fff"/>
<path d="M268.21,360.23 L265.01,360.94 M266.37,353.27 L263.74,353.85" fill="none" stroke="#000" stroke-width="0.9" stroke-linecap="round"/>
<path d="M265.62,360.83 L261.15,361.45 L260.55,354.27 L264.25,353.76 Z" fill="#fff"/>
<path d="M265.01,360.94 L261.77,361.39 M263.74,353.85 L261.06,354.22" fill="none" stroke="#000" stroke-width="0.9" stroke-linecap="round"/>
<path d="M284.81,316.2 L284.92,319.83 L277.82,318.59 L277.8,317.84 Z" fill="#fff"/>
<path d="M284.91,316.7 L284.99,319.33 M277.82,317.95 L277.84,318.49" fill="none" stroke="#000" stroke-width="0.9" stroke-linecap="round"/>
<path d="M247.64,344.62 L244.53,343.18 L248.25,337.02 L250.04,337.84 Z" fill="#fff"/>
<path d="M247.18,344.45 L244.93,343.41 M249.74,337.73 L248.44,337.13" fill="none" stroke="#000" stroke-width="0.9" stroke-linecap="round"/>
<path d="M283.47,334.68 L281.13,337.81 L275.92,332.84 L277.18,331.17 Z" fill="#fff"/>
<path d="M283.2,335.14 L281.51,337.41 M277.05,331.39 L276.14,332.6" fill="none" stroke="#000" stroke-width="0.9" stroke-linecap="round"/>
<path d="M240.41,318.76 L240.3,315.21 L247.37,316.57 L247.38,316.96 Z" fill="#fff"/>
<path d="M240.3,318.28 L240.22,315.7 M247.37,316.9 L247.36,316.63" fill="none" stroke="#000" stroke-width="0.9" stroke-linecap="round"/>
<path d="M241.64,325.28 L240.24,322.16 L247.34,320.96 L247.34,320.88 Z" fill="#fff"/>
<path d="M241.37,324.91 L240.34,322.65 M247.31,320.84 L247.33,320.9" fill="none" stroke="#000" stroke-width="0.9" stroke-linecap="round"/>
<path d="M285.03,318.82 L284.11,322.32 L277.61,319.22 L277.85,318.38 Z" fill="#fff"/>
<path d="M284.99,319.33 L284.32,321.86 M277.84,318.49 L277.67,319.09" fill="none" stroke="#000" stroke-width="0.9" stroke-linecap="round"/>
<path d="M250.21,345.37 L246.73,344.28 L249.46,337.61 L251.84,338.35 Z" fill="#fff"/>
<path d="M249.7,345.24 L247.18,344.45 M251.47,338.26 L249.74,337.73" fill="none" stroke="#000" stroke-width="0.9" stroke-linecap="round"/>
<path d="M281.86,336.99 L278.96,339.76 L274.55,334.07 L276.35,332.37 Z" fill="#fff"/>
<path d="M281.51,337.41 L279.41,339.41 M276.14,332.6 L274.84,333.84" fill="none" stroke="#000" stroke-width="0.9" stroke-linecap="round"/>
<path d="M241.4,321.11 L240.22,317.79 L247.36,316.84 L247.58,317.41 Z" fill="#fff"/>
<path d="M241.16,320.69 L240.3,318.28 M247.52,317.3 L247.37,316.9" fill="none" stroke="#000" stroke-width="0.9" stroke-linecap="round"/>
<path d="M243.32,326.94 L241.12,324.52 L247.3,320.82 L247.75,321.26 Z" fill="#fff"/>
<path d="M242.97,326.66 L241.37,324.91 M247.63,321.17 L247.31,320.84" fill="none" stroke="#000" stroke-width="0.9" stroke-linecap="round"/>
<path d="M279.84,339.04 L276.47,341.45 L272.8,335.25 L275.12,333.6 Z" fill="#fff"/>
<path d="M279.41,339.41 L276.97,341.15 M274.84,333.84 L273.16,335.03" fill="none" stroke="#000" stroke-width="0.9" stroke-linecap="round"/>
<path d="M253.02,345.87 L249.2,345.11 L251.11,338.17 L253.97,338.73 Z" fill="#fff"/>
<path d="M252.47,345.79 L249.7,345.24 M253.54,338.67 L251.47,338.26" fill="none" stroke="#000" stroke-width="0.9" stroke-linecap="round"/>
<path d="M284.5,321.39 L282.72,324.53 L277.1,320.02 L277.72,318.96 Z" fill="#fff"/>
<path d="M284.32,321.86 L283.02,324.13 M277.67,319.09 L277.23,319.86" fill="none" stroke="#000" stroke-width="0.9" stroke-linecap="round"/>
<path d="M277.46,340.83 L273.71,342.88 L270.73,336.32 L273.51,334.81 Z" fill="#fff"/>
<path d="M276.97,341.15 L274.25,342.63 M273.16,335.03 L271.15,336.13" fill="none" stroke="#000" stroke-width="0.9" stroke-linecap="round"/>
<path d="M256.02,346.14 L251.92,345.71 L253.12,338.61 L256.35,338.94 Z" fill="#fff"/>
<path d="M255.44,346.1 L252.47,345.79 M255.88,338.92 L253.54,338.67" fill="none" stroke="#000" stroke-width="0.9" stroke-linecap="round"/>
<path d="M242.96,323.11 L240.95,320.25 L247.47,317.21 L248.11,318.08 Z" fill="#fff"/>
<path d="M242.62,322.75 L241.16,320.69 M247.98,317.94 L247.52,317.3" fill="none" stroke="#000" stroke-width="0.9" stroke-linecap="round"/>
<path d="M245.33,328.22 L242.63,326.36 L247.53,321.08 L248.65,321.83 Z" fill="#fff"/>
<path d="M244.93,328 L242.97,326.66 M248.44,321.72 L247.63,321.17" fill="none" stroke="#000" stroke-width="0.9" stroke-linecap="round"/>
<path d="M274.79,342.36 L270.73,344.06 L268.4,337.25 L271.56,335.93 Z" fill="#fff"/>
<path d="M274.25,342.63 L271.31,343.85 M271.15,336.13 L268.86,337.08" fill="none" stroke="#000" stroke-width="0.9" stroke-linecap="round"/>
<path d="M283.31,323.72 L280.87,326.42 L276.19,320.94 L277.34,319.7 Z" fill="#fff"/>
<path d="M283.02,324.13 L281.25,326.08 M277.23,319.86 L276.4,320.76" fill="none" stroke="#000" stroke-width="0.9" stroke-linecap="round"/>
<path d="M259.17,346.15 L254.86,346.06 L255.42,338.89 L258.92,338.96 Z" fill="#fff"/>
<path d="M258.56,346.17 L255.44,346.1 M258.42,338.97 L255.88,338.92" fill="none" stroke="#000" stroke-width="0.9" stroke-linecap="round"/>
<path d="M271.89,343.64 L267.6,344.98 L265.87,337.99 L269.32,336.92 Z" fill="#fff"/>
<path d="M271.31,343.85 L268.21,344.82 M268.86,337.08 L266.37,337.86" fill="none" stroke="#000" stroke-width="0.9" stroke-linecap="round"/>
<path d="M262.39,345.91 L257.95,346.18 L257.92,338.98 L261.58,338.76 Z" fill="#fff"/>
<path d="M261.77,345.98 L258.56,346.17 M261.06,338.81 L258.42,338.97" fill="none" stroke="#000" stroke-width="0.9" stroke-linecap="round"/>
<path d="M268.81,344.66 L264.39,345.64 L263.23,338.53 L266.85,337.73 Z" fill="#fff"/>
<path d="M268.21,344.82 L265.01,345.53 M266.37,337.86 L263.74,338.44" fill="none" stroke="#000" stroke-width="0.9" stroke-linecap="round"/>
<path d="M265.62,345.42 L261.15,346.03 L260.55,338.86 L264.25,338.35 Z" fill="#fff"/>
<path d="M265.01,345.53 L261.77,345.98 M263.74,338.44 L261.06,338.81" fill="none" stroke="#000" stroke-width="0.9" stroke-linecap="round"/>
<path d="M244.92,324.77 L242.31,322.39 L247.86,317.8 L249.07,318.88 Z" fill="#fff"/>
<path d="M244.52,324.47 L242.62,322.75 M248.85,318.72 L247.98,317.94" fill="none" stroke="#000" stroke-width="0.9" stroke-linecap="round"/>
<path d="M247.22,329.22 L244.53,327.77 L248.25,321.61 L250.47,322.79 Z" fill="#fff"/>
<path d="M246.75,328.98 L244.93,328 M250.17,322.64 L248.44,321.72" fill="none" stroke="#000" stroke-width="0.9" stroke-linecap="round"/>
<path d="M281.62,325.73 L278.65,328.03 L274.86,321.9 L276.59,320.58 Z" fill="#fff"/>
<path d="M281.25,326.08 L279.1,327.74 M276.4,320.76 L275.15,321.72" fill="none" stroke="#000" stroke-width="0.9" stroke-linecap="round"/>
<path d="M247.22,326.14 L244.13,324.17 L248.65,318.57 L250.47,319.71 Z" fill="#fff"/>
<path d="M246.75,325.9 L244.52,324.47 M250.17,319.56 L248.85,318.72" fill="none" stroke="#000" stroke-width="0.9" stroke-linecap="round"/>
<path d="M249.8,330.33 L246.3,328.73 L249.88,322.48 L252.25,323.56 Z" fill="#fff"/>
<path d="M249.28,330.14 L246.75,328.98 M251.89,323.42 L250.17,322.64" fill="none" stroke="#000" stroke-width="0.9" stroke-linecap="round"/>
<path d="M279.54,327.45 L276.13,329.37 L273.14,322.82 L275.42,321.54 Z" fill="#fff"/>
<path d="M279.1,327.74 L276.63,329.13 M275.15,321.72 L273.5,322.65" fill="none" stroke="#000" stroke-width="0.9" stroke-linecap="round"/>
<path d="M252.62,331.19 L248.78,329.93 L251.53,323.28 L254.37,324.21 Z" fill="#fff"/>
<path d="M252.06,331.04 L249.28,330.14 M253.95,324.09 L251.89,323.42" fill="none" stroke="#000" stroke-width="0.9" stroke-linecap="round"/>
<path d="M277.13,328.89 L273.35,330.45 L271.08,323.62 L273.84,322.48 Z" fill="#fff"/>
<path d="M276.63,329.13 L273.9,330.27 M273.5,322.65 L271.5,323.48" fill="none" stroke="#000" stroke-width="0.9" stroke-linecap="round"/>
<path d="M249.28,327.05 L246.3,325.65 L249.88,319.4 L251.89,320.34 Z" fill="#fff"/>
<path d="M249.28,327.05 L246.75,325.9 M251.89,320.34 L250.17,319.56" fill="none" stroke="#000" stroke-width="0.9" stroke-linecap="round"/>
<path d="M255.63,331.8 L251.52,330.89 L253.53,323.98 L256.75,324.69 Z" fill="#fff"/>
<path d="M255.04,331.7 L252.06,331.04 M256.28,324.61 L253.95,324.09" fill="none" stroke="#000" stroke-width="0.9" stroke-linecap="round"/>
<path d="M274.44,330.07 L270.37,331.29 L268.76,324.27 L271.9,323.33 Z" fill="#fff"/>
<path d="M273.9,330.27 L270.96,331.15 M271.5,323.48 L269.22,324.16" fill="none" stroke="#000" stroke-width="0.9" stroke-linecap="round"/>
<path d="M258.79,332.16 L254.46,331.6 L255.81,324.52 L259.3,324.97 Z" fill="#fff"/>
<path d="M258.18,332.11 L255.04,331.7 M258.8,324.93 L256.28,324.61" fill="none" stroke="#000" stroke-width="0.9" stroke-linecap="round"/>
<path d="M271.53,331 L267.24,331.87 L266.23,324.74 L269.67,324.04 Z" fill="#fff"/>
<path d="M270.96,331.15 L267.85,331.78 M269.22,324.16 L266.73,324.66" fill="none" stroke="#000" stroke-width="0.9" stroke-linecap="round"/>
<path d="M262.01,332.25 L257.57,332.05 L258.31,324.89 L261.95,325.05 Z" fill="#fff"/>
<path d="M261.39,332.26 L258.18,332.11 M261.44,325.06 L258.8,324.93" fill="none" stroke="#000" stroke-width="0.9" stroke-linecap="round"/>
<path d="M268.45,331.67 L264.02,332.19 L263.6,325 L267.22,324.58 Z" fill="#fff"/>
<path d="M267.85,331.78 L264.64,332.15 M266.73,324.66 L264.11,324.96" fill="none" stroke="#000" stroke-width="0.9" stroke-linecap="round"/>
<path d="M265.26,332.09 L260.78,332.25 L260.93,325.05 L264.61,324.92 Z" fill="#fff"/>
<path d="M264.64,332.15 L261.39,332.26 M264.11,324.96 L261.44,325.06" fill="none" stroke="#000" stroke-width="0.9" stroke-linecap="round"/>
<path d="M249.28,327.05 L251.89,320.34" stroke="#000" stroke-width="1.2"/>
<path d="M270.34,369.04 L268.73,376.06" stroke="#000" stroke-width="1.2"/>
<ellipse cx="262.5" cy="407.5" rx="20.6" ry="10.9" fill="#fff" stroke="#000" stroke-width="1" />
<ellipse cx="262.5" cy="406.2" rx="20.6" ry="10.9" fill="#fff" stroke="#000" stroke-width="0.9" />
<ellipse cx="262.5" cy="406.8" rx="14.8" ry="8.4" fill="#fff" stroke="#000" stroke-width="1.2" />
<ellipse cx="262.5" cy="404.8" rx="15" ry="8.6" fill="#fff" stroke="#000" stroke-width="1.9" />
<path d="M248.5,406.4 A14,4.8 0 0 1 276.5,406.4" fill="none" stroke="#000" stroke-width="0.8" />
<path d="M243.3,431.3 L243.3,451.4 A18.9,9.8 0 0 0 281.1,451.4 L281.1,431.3 Z" fill="#fff" stroke="#000" stroke-width="1" />
<path d="M243.3,435.5 A18.9,9.8 0 0 0 281.1,435.5" fill="none" stroke="#111" stroke-width="0.9" />
<path d="M243.3,437.1 A18.9,9.8 0 0 0 281.1,437.1" fill="none" stroke="#444" stroke-width="0.55" />
<path d="M243.3,438.68 A18.9,9.8 0 0 0 281.1,438.68" fill="none" stroke="#111" stroke-width="0.9" />
<path d="M243.3,440.28 A18.9,9.8 0 0 0 281.1,440.28" fill="none" stroke="#444" stroke-width="0.55" />
<path d="M243.3,441.86 A18.9,9.8 0 0 0 281.1,441.86" fill="none" stroke="#111" stroke-width="0.9" />
<path d="M243.3,443.46 A18.9,9.8 0 0 0 281.1,443.46" fill="none" stroke="#444" stroke-width="0.55" />
<path d="M243.3,445.04 A18.9,9.8 0 0 0 281.1,445.04" fill="none" stroke="#111" stroke-width="0.9" />
<path d="M243.3,446.64 A18.9,9.8 0 0 0 281.1,446.64" fill="none" stroke="#444" stroke-width="0.55" />
<path d="M243.3,448.22 A18.9,9.8 0 0 0 281.1,448.22" fill="none" stroke="#111" stroke-width="0.9" />
<path d="M243.3,449.82 A18.9,9.8 0 0 0 281.1,449.82" fill="none" stroke="#444" stroke-width="0.55" />
<path d="M243.3,451.4 A18.9,9.8 0 0 0 281.1,451.4" fill="none" stroke="#111" stroke-width="0.9" />
<ellipse cx="262.2" cy="431.3" rx="18.9" ry="9.8" fill="#fff" stroke="#000" stroke-width="1" />
<ellipse cx="262.2" cy="431.7" rx="15.3" ry="7.6" fill="#fff" stroke="#000" stroke-width="1" />
<clipPath id="hc3043"><ellipse cx="262.2" cy="431.7" rx="15.0" ry="7.2"/></clipPath>
<g clip-path="url(#hc3043)">
<path d="M246.6,431 A15.6,7.6 0 0 1 277.8,431" fill="none" stroke="#222" stroke-width="0.7" />
<path d="M246.6,432.95 A15.6,7.6 0 0 1 277.8,432.95" fill="none" stroke="#222" stroke-width="0.7" />
<path d="M246.6,434.9 A15.6,7.6 0 0 1 277.8,434.9" fill="none" stroke="#222" stroke-width="0.7" />
<path d="M246.6,436.85 A15.6,7.6 0 0 1 277.8,436.85" fill="none" stroke="#222" stroke-width="0.7" />
<path d="M246.6,438.8 A15.6,7.6 0 0 1 277.8,438.8" fill="none" stroke="#222" stroke-width="0.7" />
<path d="M246.6,440.75 A15.6,7.6 0 0 1 277.8,440.75" fill="none" stroke="#222" stroke-width="0.7" />
<path d="M246.6,442.7 A15.6,7.6 0 0 1 277.8,442.7" fill="none" stroke="#222" stroke-width="0.7" />
<path d="M246.6,444.65 A15.6,7.6 0 0 1 277.8,444.65" fill="none" stroke="#222" stroke-width="0.7" />
</g>
<path d="M248.7,434.8 Q250.2,436.9 253.2,437.5" fill="none" stroke="#000" stroke-width="1.3" />
<ellipse cx="262.3" cy="476" rx="21.1" ry="11.4" fill="#fff" stroke="#000" stroke-width="1.1" />
<ellipse cx="262.3" cy="474.7" rx="21.1" ry="11.4" fill="#fff" stroke="#000" stroke-width="0.9" />
<ellipse cx="262.3" cy="473.5" rx="16" ry="9.6" fill="#fff" stroke="#000" stroke-width="1.1" />
<ellipse cx="262.3" cy="474.5" rx="15.2" ry="8.6" fill="none" stroke="#000" stroke-width="0.7" />
<path d="M246.1,476.3 L242.5,477.3 M273.8,481 L277.1,483.1" fill="none" stroke="#000" stroke-width="0.9" />
<rect x="243.7" y="476.1" width="2" height="1.4" fill="#000"/>
<ellipse cx="262.4" cy="521.9" rx="9.35" ry="4.8" fill="#fff" stroke="#000" stroke-width="1" />
<rect x="253.05" y="519.7" width="18.7" height="2.2" fill="#fff"/>
<path d="M253.05,519.7 L253.05,521.9 M271.75,519.7 L271.75,521.9" fill="none" stroke="#000" stroke-width="1" />
<ellipse cx="262.4" cy="520.8" rx="9.35" ry="4.8" fill="none" stroke="#000" stroke-width="0.5" />
<ellipse cx="262.4" cy="519.7" rx="9.35" ry="4.8" fill="#fff" stroke="#000" stroke-width="1" />
<ellipse cx="262.4" cy="519.7" rx="3.2" ry="2" fill="#777" stroke="#000" stroke-width="1" />
<ellipse cx="262.4" cy="519.9" rx="1.3" ry="0.8" fill="#222" stroke="#000" stroke-width="0.5" />
<ellipse cx="262.4" cy="545.5" rx="3.6" ry="2" fill="#fff" stroke="#000" stroke-width="1.1" />
<ellipse cx="262.4" cy="565.5" rx="9.35" ry="4.8" fill="#fff" stroke="#000" stroke-width="1" />
<rect x="253.05" y="563.3" width="18.7" height="2.2" fill="#fff"/>
<path d="M253.05,563.3 L253.05,565.5 M271.75,563.3 L271.75,565.5" fill="none" stroke="#000" stroke-width="1" />
<ellipse cx="262.4" cy="564.4" rx="9.35" ry="4.8" fill="none" stroke="#000" stroke-width="0.5" />
<ellipse cx="262.4" cy="563.3" rx="9.35" ry="4.8" fill="#fff" stroke="#000" stroke-width="1" />
<ellipse cx="262.4" cy="563.3" rx="3.4" ry="1.9" fill="#fff" stroke="#000" stroke-width="0.8" />
<ellipse cx="262.4" cy="563.7" rx="2" ry="1" fill="#fff" stroke="#666" stroke-width="0.5" />
<rect x="259.4" y="578.2" width="6.4" height="66.8" fill="#fff" stroke="#000" stroke-width="1"/>
<ellipse cx="262.6" cy="578.4" rx="3.2" ry="2" fill="#000" stroke="#000" stroke-width="0.8" />
<line x1="259.4" y1="584.2" x2="265.8" y2="584.2" stroke="#000" stroke-width="0.8"/>
<line x1="259.4" y1="603.7" x2="265.8" y2="603.7" stroke="#000" stroke-width="0.8"/>
<line x1="259.4" y1="608.2" x2="265.8" y2="608.2" stroke="#000" stroke-width="0.8"/>
<path d="M250.2,640.8 L250.2,748.2 A12.4,5.8 0 0 0 275,748.2 L275,640.8 Z" fill="#fff" stroke="#000" stroke-width="1.1" />
<path d="M250.2,745.7 A12.4,5.8 0 0 0 275,745.7" fill="none" stroke="#000" stroke-width="0.8" />
<path d="M250.2,650.8 A12.4,5.8 0 0 0 275,650.8" fill="none" stroke="#000" stroke-width="1.6" />
<path d="M250.2,643.8 A12.4,5.8 0 0 0 275,643.8" fill="none" stroke="#000" stroke-width="0.8" />
<ellipse cx="262.6" cy="640.8" rx="12.4" ry="5.8" fill="#fff" stroke="#000" stroke-width="1.1" />
<ellipse cx="255.6" cy="638.3" rx="0.8" ry="0.6" fill="#000" stroke="#000" stroke-width="0.5" />
<ellipse cx="269.6" cy="638.3" rx="0.8" ry="0.6" fill="#000" stroke="#000" stroke-width="0.5" />
<ellipse cx="255.6" cy="643.3" rx="0.8" ry="0.6" fill="#000" stroke="#000" stroke-width="0.5" />
<ellipse cx="269.6" cy="643.3" rx="0.8" ry="0.6" fill="#000" stroke="#000" stroke-width="0.5" />
<rect x="259.4" y="633" width="6.4" height="9.8" fill="#fff" stroke="none"/>
<path d="M259.4,633 L259.4,643.3 A3.2,1.5 0 0 0 265.8,643.3 L265.8,633" fill="none" stroke="#000" stroke-width="1" />
<path d="M247.2,714 L247.2,717.3 A15.4,7.6 0 0 0 278,717.3 L278,714 A15.4,7.6 0 0 1 247.2,714 Z" fill="#fff" stroke="#000" stroke-width="1.1" />
<path d="M247.2,714 A15.4,7.6 0 1 0 278,714 A15.4,7.6 0 1 0 247.2,714 Z M249.3,713.4 A13.3,6.3 0 1 0 275.9,713.4 A13.3,6.3 0 1 0 249.3,713.4 Z" fill="#fff" stroke="#000" stroke-width="1.1" fill-rule="evenodd"/>
<path d="M250.1,714.6 A12.5,6.3 0 0 0 275.1,714.6" fill="none" stroke="#000" stroke-width="0.7" />
<path d="M250.2,704.9 L250.2,713.4 A12.4,5.87 0 0 0 275,713.4 L275,704.9 Z" fill="#fff"/>
<path d="M250.2,704.9 L250.2,713.4 A12.4,5.87 0 0 0 275,713.4 L275,704.9" fill="none" stroke="#000" stroke-width="1" />
<rect x="248.67" y="718.12" width="2.8" height="3.9" fill="#fff" stroke="#000" stroke-width="0.8"/>
<rect x="253.82" y="720.37" width="2.8" height="3.9" fill="#fff" stroke="#000" stroke-width="0.8"/>
<rect x="260.43" y="721.29" width="2.8" height="3.9" fill="#fff" stroke="#000" stroke-width="0.8"/>
<rect x="267.2" y="720.7" width="2.8" height="3.9" fill="#fff" stroke="#000" stroke-width="0.8"/>
<rect x="272.77" y="718.72" width="2.8" height="3.9" fill="#fff" stroke="#000" stroke-width="0.8"/>
<path d="M242.1,689.8 L242.1,693 A20.5,10.3 0 0 0 283.1,693 L283.1,689.8 A20.5,10.3 0 0 1 242.1,689.8 Z" fill="#fff" stroke="#000" stroke-width="1.2" />
<path d="M242.1,689.8 A20.5,10.3 0 1 0 283.1,689.8 A20.5,10.3 0 1 0 242.1,689.8 Z M247.4,689.2 A15.2,7.4 0 1 0 277.8,689.2 A15.2,7.4 0 1 0 247.4,689.2 Z" fill="#fff" stroke="#000" stroke-width="1.2" fill-rule="evenodd"/>
<path d="M248.2,690.4 A14.4,7.4 0 0 0 277,690.4" fill="none" stroke="#000" stroke-width="0.7" />
<path d="M250.2,678 L250.2,689.2 A12.4,6.04 0 0 0 275,689.2 L275,678 Z" fill="#fff"/>
<path d="M250.2,678 L250.2,689.2 A12.4,6.04 0 0 0 275,689.2 L275,678" fill="none" stroke="#000" stroke-width="1" />
<rect x="244.52" y="695.49" width="2.8" height="3.8" fill="#fff" stroke="#000" stroke-width="0.8"/>
<rect x="257.13" y="699.59" width="2.8" height="3.8" fill="#fff" stroke="#000" stroke-width="0.8"/>
<rect x="271.92" y="698.28" width="2.8" height="3.8" fill="#fff" stroke="#000" stroke-width="0.8"/>
<path d="M247.4,830 L247.4,848 Q247.4,855 253.8,855 Q260.3,854.5 260.3,847.5 L260.3,841 Z" fill="#fff" stroke="#000" stroke-width="1" />
<ellipse cx="253.3" cy="847" rx="2.2" ry="3.5" fill="#fff" stroke="#000" stroke-width="0.9" transform="rotate(35 253.3 847)"/>
<ellipse cx="253.3" cy="847" rx="1" ry="2.2" fill="#fff" stroke="#000" stroke-width="0.6" transform="rotate(35 253.3 847)"/>
<path d="M264.4,840 L264.4,859 Q264.4,866 271.1,866 Q277.8,866 277.8,859 L277.8,830 Z" fill="#fff" stroke="#000" stroke-width="1" />
<path d="M268.6,852 L276.1,849 L276.1,860 L268.6,862.5 Z" fill="none" stroke="#000" stroke-width="0.9"/>
<ellipse cx="272.6" cy="857" rx="2" ry="3.2" fill="#fff" stroke="#000" stroke-width="0.9" transform="rotate(35 272.6 857)"/>
<ellipse cx="272.6" cy="857" rx="0.9" ry="1.9" fill="#fff" stroke="#000" stroke-width="0.6" transform="rotate(35 272.6 857)"/>
<path d="M248.3,764.5 L248.3,831.7 A14.3,7.3 0 0 0 276.9,831.7 L276.9,764.5 Z" fill="#fff" stroke="#000" stroke-width="1.1" />
<path d="M248.3,827.2 A14.3,7.3 0 0 0 276.9,827.2" fill="none" stroke="#000" stroke-width="0.9" />
<path d="M248.3,828.5 A14.3,7.3 0 0 0 276.9,828.5" fill="none" stroke="#000" stroke-width="0.6" />
<ellipse cx="262.6" cy="764.5" rx="14.3" ry="7.3" fill="#000" stroke="#000" stroke-width="1" />
<ellipse cx="262.6" cy="764.9" rx="12.3" ry="5.3" fill="#fff" stroke="#000" stroke-width="0.5" />
<path d="M249,808.5 L259.6,811.5 L259.6,833 L249,830 Z" fill="#111"/>
<path d="M250,810.5 L258.6,813 L258.6,831.5 L250,829 Z" fill="none" stroke="#fff" stroke-width="0.6"/>
<rect x="251.5" y="814.5" width="4" height="2" fill="#fff"/>
<rect x="253.5" y="818.5" width="3.5" height="3" fill="#ddd"/>
<rect x="251.5" y="824.5" width="5" height="1.5" fill="#bbb"/>
<ellipse cx="239.8" cy="834.8" rx="3.1" ry="4.7" fill="#fff" stroke="#000" stroke-width="0.85" transform="rotate(38 239.8 834.8)"/>
<ellipse cx="239.8" cy="834.8" rx="2.2" ry="3.6" fill="none" stroke="#000" stroke-width="0.5" transform="rotate(38 239.8 834.8)"/>
<ellipse cx="239.8" cy="834.8" rx="1.2" ry="2.2" fill="#fff" stroke="#000" stroke-width="0.8" transform="rotate(38 239.8 834.8)"/>
<ellipse cx="281.7" cy="865.3" rx="3.1" ry="4.7" fill="#fff" stroke="#000" stroke-width="0.85" transform="rotate(38 281.7 865.3)"/>
<ellipse cx="281.7" cy="865.3" rx="2.2" ry="3.6" fill="none" stroke="#000" stroke-width="0.5" transform="rotate(38 281.7 865.3)"/>
<ellipse cx="281.7" cy="865.3" rx="1.2" ry="2.2" fill="#fff" stroke="#000" stroke-width="0.8" transform="rotate(38 281.7 865.3)"/>
<path d="M376.9,119.3 L376.9,121.8 A4.3,1.9 0 0 0 385.5,121.8 L385.5,119.3 Z" fill="#fff" stroke="#000" stroke-width="0.85" />
<ellipse cx="381.2" cy="119.3" rx="4.3" ry="1.9" fill="#fff" stroke="#000" stroke-width="0.85" />
<path d="M375.6,112.8 L376.2,117.4 Q381.2,119.8 386.2,117.4 L386.8,112.8 Z" fill="#fff" stroke="#000" stroke-width="0.85" />
<path d="M379.7,115.7 L379.9,118.8 M384.4,115.5 L384.2,118.4" fill="none" stroke="#000" stroke-width="0.8" />
<path d="M375.6,112.8 L375.8,115.4 Q381.2,117.2 386.6,115.4 L386.8,112.8 Z" fill="#000"/>
<ellipse cx="381.2" cy="112.8" rx="5.6" ry="3.6" fill="#000" stroke="#000" stroke-width="0.8" />
<ellipse cx="381.2" cy="112.1" rx="2.8" ry="1.3" fill="#fff" stroke="#000" stroke-width="0.8" />
<ellipse cx="381.2" cy="150.7" rx="24.4" ry="13.2" fill="#fff" stroke="#000" stroke-width="1.4" />
<path d="M356.8,147.2 L356.8,150.7 M405.6,147.2 L405.6,150.7" fill="none" stroke="#000" stroke-width="1" />
<path d="M356.8,150.7 L356.8,147.2 A24.4,13.2 0 0 0 405.6,147.2 L405.6,150.7" fill="#fff" stroke="none"/>
<ellipse cx="381.2" cy="147.2" rx="24.4" ry="13.2" fill="#fff" stroke="#000" stroke-width="1.1" />
<path d="M357.1,149.4 A24.1,13.2 0 0 0 405.3,149.4" fill="none" stroke="#000" stroke-width="0.7" />
<path d="M360.2,135.9 L360.2,145.1 A2.4,1.4 0 0 0 365,145.1 L365,135.9 Z" fill="#fff" stroke="#000" stroke-width="1.1" />
<ellipse cx="362.6" cy="135.9" rx="2.4" ry="1.4" fill="#fff" stroke="#000" stroke-width="1.1" />
<path d="M397.1,142.4 L397.1,151.1 A2.4,1.4 0 0 0 401.9,151.1 L401.9,142.4 Z" fill="#fff" stroke="#000" stroke-width="1.1" />
<ellipse cx="399.5" cy="142.4" rx="2.4" ry="1.4" fill="#fff" stroke="#000" stroke-width="1.1" />
<ellipse cx="381.2" cy="145.7" rx="9.3" ry="6.2" fill="#000" stroke="#000" stroke-width="0.8" />
<ellipse cx="381.2" cy="145.2" rx="7.2" ry="4.4" fill="#fff" stroke="#000" stroke-width="0.8" />
<ellipse cx="381.2" cy="145.2" rx="5.8" ry="3.4" fill="#fff" stroke="#000" stroke-width="1.4" />
<ellipse cx="381.2" cy="144.8" rx="3.6" ry="1.8" fill="#fff" stroke="#000" stroke-width="0.8" />
<ellipse cx="369.1" cy="150.9" rx="1.9" ry="1.4" fill="#fff" stroke="#000" stroke-width="0.8" />
<ellipse cx="371.7" cy="150.9" rx="1.9" ry="1.4" fill="#fff" stroke="#000" stroke-width="0.8" />
<ellipse cx="390.2" cy="151.8" rx="1.9" ry="1.4" fill="#fff" stroke="#000" stroke-width="0.8" />
<ellipse cx="392.8" cy="151.8" rx="1.9" ry="1.4" fill="#fff" stroke="#000" stroke-width="0.8" />
<path d="M370.4,155.8 L389,156.6 L388.8,158 L370.6,157.4 Z" fill="#000"/>
<path d="M377.2,155.5 l1,-1.5 l1,1.2 l1.2,-1.2 l1,1.3 M382,154.2 l0,1.5 l2.2,0.2 M374.7,155.6 l1.5,-0.8" fill="none" stroke="#000" stroke-width="0.7" />
<path d="M375.95,172.1 L375.95,176 A5.25,2.7 0 0 0 386.45,176 L386.45,172.1 Z" fill="#fff" stroke="#000" stroke-width="1" />
<ellipse cx="381.2" cy="172.1" rx="5.25" ry="2.7" fill="#fff" stroke="#000" stroke-width="1" />
<ellipse cx="381.2" cy="172.1" rx="3.95" ry="1.8" fill="none" stroke="#000" stroke-width="1.3" />
<ellipse cx="381.2" cy="197.5" rx="21.45" ry="12" fill="#fff" stroke="#000" stroke-width="1.6" />
<ellipse cx="381.2" cy="196.3" rx="21.45" ry="12" fill="#fff" stroke="#000" stroke-width="1" />
<ellipse cx="381.2" cy="195.1" rx="15" ry="8.45" fill="none" stroke="#000" stroke-width="0.8" />
<ellipse cx="381.2" cy="194.7" rx="5.4" ry="3.5" fill="#fff" stroke="#000" stroke-width="1.6" />
<ellipse cx="381.2" cy="195.1" rx="3.2" ry="1.8" fill="#fff" stroke="#000" stroke-width="1.2" />
<path d="M375.95,219 L375.95,222.2 A5.25,2.7 0 0 0 386.45,222.2 L386.45,219 Z" fill="#fff" stroke="#000" stroke-width="1" />
<ellipse cx="381.2" cy="219" rx="5.25" ry="2.7" fill="#fff" stroke="#000" stroke-width="1" />
<ellipse cx="381.2" cy="219" rx="3.95" ry="1.8" fill="none" stroke="#000" stroke-width="1.3" />
<ellipse cx="381.1" cy="243.7" rx="21.6" ry="12.2" fill="#fff" stroke="#000" stroke-width="1.2" />
<ellipse cx="381.1" cy="242.5" rx="21.6" ry="12.2" fill="#fff" stroke="#000" stroke-width="1" />
<ellipse cx="381.1" cy="242.2" rx="15.8" ry="8.6" fill="#fff" stroke="#000" stroke-width="1.1" />
<ellipse cx="381.1" cy="243.1" rx="15.2" ry="7.8" fill="none" stroke="#000" stroke-width="0.6" />
<path d="M367.1,268.5 L367.1,308.5 A14.4,6.8 0 0 0 395.9,308.5 L395.9,268.5 Z" fill="#fff" stroke="#000" stroke-width="1.1" />
<path d="M367.1,271.78 A14.4,6.8 0 0 0 395.9,271.78" fill="none" stroke="#000" stroke-width="1.6" />
<path d="M367.1,277.17 A14.4,6.8 0 0 0 395.9,277.17" fill="none" stroke="#000" stroke-width="1.6" />
<path d="M367.1,281.95 A14.4,6.8 0 0 0 395.9,281.95" fill="none" stroke="#000" stroke-width="1.6" />
<path d="M367.1,287.24 A14.4,6.8 0 0 0 395.9,287.24" fill="none" stroke="#000" stroke-width="1.6" />
<path d="M367.1,292.13 A14.4,6.8 0 0 0 395.9,292.13" fill="none" stroke="#000" stroke-width="1.6" />
<path d="M367.1,272.45 Q366.3,274.95 367.1,277.45 M395.9,272.45 Q396.7,274.95 395.9,277.45" fill="none" stroke="#000" stroke-width="0.8" />
<path d="M367.1,277.53 Q366.3,280.03 367.1,282.53 M395.9,277.53 Q396.7,280.03 395.9,282.53" fill="none" stroke="#000" stroke-width="0.8" />
<path d="M367.1,282.62 Q366.3,285.12 367.1,287.62 M395.9,282.62 Q396.7,285.12 395.9,287.62" fill="none" stroke="#000" stroke-width="0.8" />
<path d="M367.1,287.7 Q366.3,290.2 367.1,292.7 M395.9,287.7 Q396.7,290.2 395.9,292.7" fill="none" stroke="#000" stroke-width="0.8" />
<path d="M367.1,292.48 Q366.3,294.98 367.1,297.48 M395.9,292.48 Q396.7,294.98 395.9,297.48" fill="none" stroke="#000" stroke-width="0.8" />
<path d="M367.1,295.58 A14.4,6.8 0 0 0 395.9,295.58" fill="none" stroke="#000" stroke-width="0.7" />
<ellipse cx="381.5" cy="268.5" rx="14.4" ry="6.8" fill="#fff" stroke="#000" stroke-width="1.2" />
<ellipse cx="381.5" cy="269.5" rx="11" ry="4.9" fill="#fff" stroke="#000" stroke-width="0.9" />
<ellipse cx="381.5" cy="269.1" rx="8.8" ry="3.6" fill="none" stroke="#000" stroke-width="0.6" />
<ellipse cx="381.5" cy="268.2" rx="2.9" ry="1.4" fill="#fff" stroke="#000" stroke-width="1.2" />
<path d="M378.72,375.91 L383.2,375.97 L382.69,383.16 L379.01,383.1 Z" fill="#fff"/>
<path d="M379.34,375.89 L382.58,375.93 M379.52,383.08 L382.19,383.12" fill="none" stroke="#000" stroke-width="0.9" stroke-linecap="round"/>
<path d="M381.96,375.91 L386.41,376.33 L385.31,383.45 L381.68,383.1 Z" fill="#fff"/>
<path d="M382.58,375.93 L385.8,376.24 M382.19,383.12 L384.82,383.38" fill="none" stroke="#000" stroke-width="0.9" stroke-linecap="round"/>
<path d="M375.53,376.16 L379.96,375.87 L380.02,383.07 L376.41,383.31 Z" fill="#fff"/>
<path d="M376.13,376.1 L379.34,375.89 M376.89,383.25 L379.52,383.08" fill="none" stroke="#000" stroke-width="0.9" stroke-linecap="round"/>
<path d="M385.19,376.16 L388.93,376.81 L387.34,383.83 L384.32,383.31 Z" fill="#fff"/>
<path d="M385.8,376.24 L388.93,376.81 M384.82,383.38 L387.34,383.83" fill="none" stroke="#000" stroke-width="0.9" stroke-linecap="round"/>
<path d="M372.45,376.68 L376.74,376.04 L377.39,383.21 L373.95,383.72 Z" fill="#fff"/>
<path d="M373.02,376.56 L376.13,376.1 M374.4,383.63 L376.89,383.25" fill="none" stroke="#000" stroke-width="0.9" stroke-linecap="round"/>
<path d="M369.54,377.44 L373.61,376.45 L374.87,383.54 L371.72,384.31 Z" fill="#fff"/>
<path d="M370.08,377.28 L373.02,376.56 M372.12,384.18 L374.4,383.63" fill="none" stroke="#000" stroke-width="0.9" stroke-linecap="round"/>
<path d="M366.85,378.46 L370.63,377.12 L372.54,384.06 L369.78,385.04 Z" fill="#fff"/>
<path d="M367.35,378.25 L370.08,377.28 M370.12,384.89 L372.12,384.18" fill="none" stroke="#000" stroke-width="0.9" stroke-linecap="round"/>
<path d="M382.29,367.01 L386.73,367.85 L384.99,374.84 L381.35,374.15 Z" fill="#fff"/>
<path d="M382.91,367.1 L386.13,367.71 M381.86,374.22 L384.5,374.72" fill="none" stroke="#000" stroke-width="0.9" stroke-linecap="round"/>
<path d="M379.05,366.71 L383.53,367.2 L382.37,374.3 L378.67,373.9 Z" fill="#fff"/>
<path d="M379.67,366.75 L382.91,367.1 M379.18,373.93 L381.86,374.22" fill="none" stroke="#000" stroke-width="0.9" stroke-linecap="round"/>
<path d="M364.43,379.73 L367.85,378.04 L370.48,384.74 L368.21,385.86 Z" fill="#fff"/>
<path d="M364.87,379.47 L367.35,378.25 M368.48,385.7 L370.12,384.89" fill="none" stroke="#000" stroke-width="0.9" stroke-linecap="round"/>
<path d="M385.52,367.57 L389.84,368.77 L387.49,375.58 L384,374.61 Z" fill="#fff"/>
<path d="M386.13,367.71 L389.25,368.58 M384.5,374.72 L387.02,375.42" fill="none" stroke="#000" stroke-width="0.9" stroke-linecap="round"/>
<path d="M375.87,366.67 L380.29,366.8 L379.69,373.97 L376.06,373.87 Z" fill="#fff"/>
<path d="M376.47,366.66 L379.67,366.75 M376.55,373.86 L379.18,373.93" fill="none" stroke="#000" stroke-width="0.9" stroke-linecap="round"/>
<path d="M388.67,368.39 L392.78,369.95 L389.78,376.49 L386.55,375.27 Z" fill="#fff"/>
<path d="M389.25,368.58 L392.23,369.7 M387.02,375.42 L389.36,376.31" fill="none" stroke="#000" stroke-width="0.9" stroke-linecap="round"/>
<path d="M372.8,366.88 L377.08,366.66 L377.05,373.86 L373.6,374.03 Z" fill="#fff"/>
<path d="M373.38,366.82 L376.47,366.66 M374.05,373.99 L376.55,373.86" fill="none" stroke="#000" stroke-width="0.9" stroke-linecap="round"/>
<path d="M362.32,381.27 L365.32,379.21 L368.76,385.54 L367.07,386.69 Z" fill="#fff"/>
<path d="M362.7,380.95 L364.87,379.47 M367.25,386.53 L368.48,385.7" fill="none" stroke="#000" stroke-width="0.9" stroke-linecap="round"/>
<path d="M391.68,369.47 L395.5,371.38 L391.79,377.55 L388.93,376.12 Z" fill="#fff"/>
<path d="M392.23,369.7 L395,371.09 M389.36,376.31 L391.43,377.34" fill="none" stroke="#000" stroke-width="0.9" stroke-linecap="round"/>
<path d="M369.9,367.33 L373.96,366.77 L374.52,373.95 L371.35,374.39 Z" fill="#fff"/>
<path d="M370.44,367.23 L373.38,366.82 M371.76,374.31 L374.05,373.99" fill="none" stroke="#000" stroke-width="0.9" stroke-linecap="round"/>
<path d="M394.49,370.8 L397.95,373.07 L393.47,378.71 L391.06,377.13 Z" fill="#fff"/>
<path d="M395,371.09 L397.5,372.73 M391.43,377.34 L393.17,378.48" fill="none" stroke="#000" stroke-width="0.9" stroke-linecap="round"/>
<path d="M367.22,368.03 L370.99,367.13 L372.18,374.23 L369.41,374.89 Z" fill="#fff"/>
<path d="M367.72,367.88 L370.44,367.23 M369.75,374.78 L371.76,374.31" fill="none" stroke="#000" stroke-width="0.9" stroke-linecap="round"/>
<path d="M360.59,383.13 L363.09,380.65 L367.45,386.38 L366.36,387.44 Z" fill="#fff"/>
<path d="M360.89,382.75 L362.7,380.95 M366.46,387.31 L367.25,386.53" fill="none" stroke="#000" stroke-width="0.9" stroke-linecap="round"/>
<path d="M397.05,372.4 L400.06,375.02 L394.76,379.9 L392.87,378.26 Z" fill="#fff"/>
<path d="M397.5,372.73 L399.68,374.63 M393.17,378.48 L394.55,379.67" fill="none" stroke="#000" stroke-width="0.9" stroke-linecap="round"/>
<path d="M364.8,368.96 L368.22,367.73 L370.11,374.68 L367.84,375.49 Z" fill="#fff"/>
<path d="M365.24,368.77 L367.72,367.88 M368.11,375.37 L369.75,374.78" fill="none" stroke="#000" stroke-width="0.9" stroke-linecap="round"/>
<path d="M359.34,385.34 L361.2,382.38 L366.58,387.17 L366.04,387.99 Z" fill="#fff"/>
<path d="M359.53,384.89 L360.89,382.75 M366.07,387.91 L366.46,387.31" fill="none" stroke="#000" stroke-width="0.9" stroke-linecap="round"/>
<path d="M399.3,374.25 L401.77,377.24 L395.67,381.07 L394.32,379.45 Z" fill="#fff"/>
<path d="M399.68,374.63 L401.47,376.8 M394.55,379.67 L395.52,380.85" fill="none" stroke="#000" stroke-width="0.9" stroke-linecap="round"/>
<path d="M382.29,353.32 L386.73,354.16 L384.99,361.15 L381.35,360.46 Z" fill="#fff"/>
<path d="M382.91,353.4 L386.13,354.01 M381.86,360.53 L384.5,361.03" fill="none" stroke="#000" stroke-width="0.9" stroke-linecap="round"/>
<path d="M379.05,353.02 L383.53,353.5 L382.37,360.61 L378.67,360.21 Z" fill="#fff"/>
<path d="M379.67,353.06 L382.91,353.4 M379.18,360.24 L381.86,360.53" fill="none" stroke="#000" stroke-width="0.9" stroke-linecap="round"/>
<path d="M385.52,353.88 L389.84,355.08 L387.49,361.88 L384,360.92 Z" fill="#fff"/>
<path d="M386.13,354.01 L389.25,354.88 M384.5,361.03 L387.02,361.73" fill="none" stroke="#000" stroke-width="0.9" stroke-linecap="round"/>
<path d="M362.66,370.17 L365.69,368.58 L368.39,375.25 L366.73,376.11 Z" fill="#fff"/>
<path d="M363.05,369.92 L365.24,368.77 M366.9,376 L368.11,375.37" fill="none" stroke="#000" stroke-width="0.9" stroke-linecap="round"/>
<path d="M375.87,352.98 L380.29,353.1 L379.69,360.28 L376.06,360.17 Z" fill="#fff"/>
<path d="M376.47,352.96 L379.67,353.06 M376.55,360.16 L379.18,360.24" fill="none" stroke="#000" stroke-width="0.9" stroke-linecap="round"/>
<path d="M388.67,354.7 L392.78,356.25 L389.78,362.8 L386.55,361.58 Z" fill="#fff"/>
<path d="M389.25,354.88 L392.23,356.01 M387.02,361.73 L389.36,362.61" fill="none" stroke="#000" stroke-width="0.9" stroke-linecap="round"/>
<path d="M372.8,353.18 L377.08,352.96 L377.05,360.16 L373.6,360.34 Z" fill="#fff"/>
<path d="M373.38,353.13 L376.47,352.96 M374.05,360.29 L376.55,360.16" fill="none" stroke="#000" stroke-width="0.9" stroke-linecap="round"/>
<path d="M358.77,387.85 L359.75,384.46 L366.12,387.81 L365.95,388.34 Z" fill="#fff"/>
<path d="M358.82,387.36 L359.53,384.89 M365.96,388.28 L366.07,387.91" fill="none" stroke="#000" stroke-width="0.9" stroke-linecap="round"/>
<path d="M401.17,376.36 L402.98,379.72 L396.2,382.15 L395.37,380.63 Z" fill="#fff"/>
<path d="M401.47,376.8 L402.79,379.23 M395.52,380.85 L396.13,381.95" fill="none" stroke="#000" stroke-width="0.9" stroke-linecap="round"/>
<path d="M391.68,355.77 L395.5,357.69 L391.79,363.86 L388.93,362.43 Z" fill="#fff"/>
<path d="M392.23,356.01 L395,357.39 M389.36,362.61 L391.43,363.64" fill="none" stroke="#000" stroke-width="0.9" stroke-linecap="round"/>
<path d="M369.9,353.64 L373.96,353.08 L374.52,360.25 L371.35,360.69 Z" fill="#fff"/>
<path d="M370.44,353.53 L373.38,353.13 M371.76,360.61 L374.05,360.29" fill="none" stroke="#000" stroke-width="0.9" stroke-linecap="round"/>
<path d="M360.85,371.71 L363.44,369.68 L367.1,375.88 L366.1,376.63 Z" fill="#fff"/>
<path d="M361.16,371.39 L363.05,369.92 M366.18,376.55 L366.9,376" fill="none" stroke="#000" stroke-width="0.9" stroke-linecap="round"/>
<path d="M394.49,357.11 L397.95,359.38 L393.47,365.01 L391.06,363.44 Z" fill="#fff"/>
<path d="M395,357.39 L397.5,359.03 M391.43,363.64 L393.17,364.79" fill="none" stroke="#000" stroke-width="0.9" stroke-linecap="round"/>
<path d="M367.22,354.33 L370.99,353.44 L372.18,360.54 L369.41,361.19 Z" fill="#fff"/>
<path d="M367.72,354.18 L370.44,353.53 M369.75,361.09 L371.76,360.61" fill="none" stroke="#000" stroke-width="0.9" stroke-linecap="round"/>
<path d="M402.58,378.75 L403.59,382.4 L396.43,383.14 L396.04,381.75 Z" fill="#fff"/>
<path d="M402.79,379.23 L403.53,381.88 M396.13,381.95 L396.41,382.96" fill="none" stroke="#000" stroke-width="0.9" stroke-linecap="round"/>
<path d="M359.01,390.43 L358.9,386.87 L365.97,388.23 L365.98,388.64 Z" fill="#fff"/>
<path d="M358.9,389.95 L358.82,387.36 M365.97,388.57 L365.96,388.28" fill="none" stroke="#000" stroke-width="0.9" stroke-linecap="round"/>
<path d="M397.05,358.7 L400.06,361.33 L394.76,366.21 L392.87,364.56 Z" fill="#fff"/>
<path d="M397.5,359.03 L399.68,360.93 M393.17,364.79 L394.55,365.98" fill="none" stroke="#000" stroke-width="0.9" stroke-linecap="round"/>
<path d="M359.46,373.7 L361.5,371.08 L366.28,376.46 L365.92,376.87 Z" fill="#fff"/>
<path d="M359.68,373.28 L361.16,371.39 M365.93,376.85 L366.18,376.55" fill="none" stroke="#000" stroke-width="0.9" stroke-linecap="round"/>
<path d="M364.8,355.27 L368.22,354.04 L370.11,360.99 L367.84,361.8 Z" fill="#fff"/>
<path d="M365.24,355.07 L367.72,354.18 M368.11,361.68 L369.75,361.09" fill="none" stroke="#000" stroke-width="0.9" stroke-linecap="round"/>
<path d="M403.44,381.36 L403.53,385.15 L396.41,384.09 L396.37,382.77 Z" fill="#fff"/>
<path d="M403.53,381.88 L403.59,384.63 M396.41,382.96 L396.43,383.91" fill="none" stroke="#000" stroke-width="0.9" stroke-linecap="round"/>
<path d="M360,392.78 L358.82,389.46 L365.96,388.51 L366.18,389.1 Z" fill="#fff"/>
<path d="M359.76,392.36 L358.9,389.95 M366.12,388.99 L365.97,388.57" fill="none" stroke="#000" stroke-width="0.9" stroke-linecap="round"/>
<path d="M399.3,360.55 L401.77,363.55 L395.67,367.38 L394.32,365.75 Z" fill="#fff"/>
<path d="M399.68,360.93 L401.47,363.1 M394.55,365.98 L395.52,367.16" fill="none" stroke="#000" stroke-width="0.9" stroke-linecap="round"/>
<path d="M382.29,339.62 L386.73,340.46 L384.99,347.45 L381.35,346.76 Z" fill="#fff"/>
<path d="M382.91,339.71 L386.13,340.32 M381.86,346.83 L384.5,347.33" fill="none" stroke="#000" stroke-width="0.9" stroke-linecap="round"/>
<path d="M379.05,339.32 L383.53,339.81 L382.37,346.91 L378.67,346.51 Z" fill="#fff"/>
<path d="M379.67,339.36 L382.91,339.71 M379.18,346.54 L381.86,346.83" fill="none" stroke="#000" stroke-width="0.9" stroke-linecap="round"/>
<path d="M385.52,340.18 L389.84,341.38 L387.49,348.19 L384,347.22 Z" fill="#fff"/>
<path d="M386.13,340.32 L389.25,341.19 M384.5,347.33 L387.02,348.03" fill="none" stroke="#000" stroke-width="0.9" stroke-linecap="round"/>
<path d="M358.77,376.14 L359.92,372.88 L365.95,376.82 L365.95,376.74 Z" fill="#fff"/>
<path d="M358.83,375.65 L359.68,373.28 M365.94,376.78 L365.93,376.85" fill="none" stroke="#000" stroke-width="0.9" stroke-linecap="round"/>
<path d="M362.66,356.48 L365.69,354.88 L368.39,361.56 L366.73,362.42 Z" fill="#fff"/>
<path d="M363.05,356.22 L365.24,355.07 M366.9,362.3 L368.11,361.68" fill="none" stroke="#000" stroke-width="0.9" stroke-linecap="round"/>
<path d="M375.87,339.28 L380.29,339.41 L379.69,346.58 L376.06,346.48 Z" fill="#fff"/>
<path d="M376.47,339.27 L379.67,339.36 M376.55,346.47 L379.18,346.54" fill="none" stroke="#000" stroke-width="0.9" stroke-linecap="round"/>
<path d="M388.67,341 L392.78,342.56 L389.78,349.1 L386.55,347.88 Z" fill="#fff"/>
<path d="M389.25,341.19 L392.23,342.32 M387.02,348.03 L389.36,348.92" fill="none" stroke="#000" stroke-width="0.9" stroke-linecap="round"/>
<path d="M403.63,384.1 L402.8,387.8 L396.13,385.09 L396.44,383.73 Z" fill="#fff"/>
<path d="M403.59,384.63 L402.99,387.31 M396.43,383.91 L396.2,384.89" fill="none" stroke="#000" stroke-width="0.9" stroke-linecap="round"/>
<path d="M372.8,339.49 L377.08,339.27 L377.05,346.47 L373.6,346.65 Z" fill="#fff"/>
<path d="M373.38,339.43 L376.47,339.27 M374.05,346.6 L376.55,346.47" fill="none" stroke="#000" stroke-width="0.9" stroke-linecap="round"/>
<path d="M361.55,394.79 L359.54,391.92 L366.08,388.9 L366.72,389.78 Z" fill="#fff"/>
<path d="M361.22,394.43 L359.76,392.36 M366.58,389.63 L366.12,388.99" fill="none" stroke="#000" stroke-width="0.9" stroke-linecap="round"/>
<path d="M401.17,362.67 L402.98,366.03 L396.2,368.46 L395.37,366.94 Z" fill="#fff"/>
<path d="M401.47,363.1 L402.79,365.54 M395.52,367.16 L396.13,368.26" fill="none" stroke="#000" stroke-width="0.9" stroke-linecap="round"/>
<path d="M391.68,342.08 L395.5,343.99 L391.79,350.16 L388.93,348.74 Z" fill="#fff"/>
<path d="M392.23,342.32 L395,343.7 M389.36,348.92 L391.43,349.95" fill="none" stroke="#000" stroke-width="0.9" stroke-linecap="round"/>
<path d="M369.9,339.94 L373.96,339.38 L374.52,346.56 L371.35,347 Z" fill="#fff"/>
<path d="M370.44,339.84 L373.38,339.43 M371.76,346.92 L374.05,346.6" fill="none" stroke="#000" stroke-width="0.9" stroke-linecap="round"/>
<path d="M360.85,358.02 L363.44,355.98 L367.1,362.19 L366.1,362.94 Z" fill="#fff"/>
<path d="M361.16,357.69 L363.05,356.22 M366.18,362.85 L366.9,362.3" fill="none" stroke="#000" stroke-width="0.9" stroke-linecap="round"/>
<path d="M359.06,378.69 L358.93,375.16 L365.93,376.82 L365.93,376.51 Z" fill="#fff"/>
<path d="M358.93,378.22 L358.83,375.65 M365.93,376.54 L365.94,376.78" fill="none" stroke="#000" stroke-width="0.9" stroke-linecap="round"/>
<path d="M403.15,386.81 L401.49,390.24 L395.53,386.19 L396.27,384.7 Z" fill="#fff"/>
<path d="M402.99,387.31 L401.78,389.79 M396.2,384.89 L395.67,385.98" fill="none" stroke="#000" stroke-width="0.9" stroke-linecap="round"/>
<path d="M394.49,343.41 L397.95,345.68 L393.47,351.32 L391.06,349.74 Z" fill="#fff"/>
<path d="M395,343.7 L397.5,345.34 M391.43,349.95 L393.17,351.09" fill="none" stroke="#000" stroke-width="0.9" stroke-linecap="round"/>
<path d="M367.22,340.64 L370.99,339.74 L372.18,346.84 L369.41,347.5 Z" fill="#fff"/>
<path d="M367.72,340.49 L370.44,339.84 M369.75,347.39 L371.76,346.92" fill="none" stroke="#000" stroke-width="0.9" stroke-linecap="round"/>
<path d="M363.51,396.46 L360.9,394.06 L366.47,389.5 L367.68,390.59 Z" fill="#fff"/>
<path d="M363.11,396.16 L361.22,394.43 M367.46,390.43 L366.58,389.63" fill="none" stroke="#000" stroke-width="0.9" stroke-linecap="round"/>
<path d="M402.58,365.05 L403.59,368.71 L396.43,369.45 L396.04,368.06 Z" fill="#fff"/>
<path d="M402.79,365.54 L403.53,368.19 M396.13,368.26 L396.41,369.26" fill="none" stroke="#000" stroke-width="0.9" stroke-linecap="round"/>
<path d="M397.05,345.01 L400.06,347.63 L394.76,352.51 L392.87,350.87 Z" fill="#fff"/>
<path d="M397.5,345.34 L399.68,347.24 M393.17,351.09 L394.55,352.28" fill="none" stroke="#000" stroke-width="0.9" stroke-linecap="round"/>
<path d="M359.46,360 L361.5,357.38 L366.28,362.76 L365.92,363.17 Z" fill="#fff"/>
<path d="M359.68,359.58 L361.16,357.69 M365.93,363.16 L366.18,362.85" fill="none" stroke="#000" stroke-width="0.9" stroke-linecap="round"/>
<path d="M402.05,389.34 L399.7,392.41 L394.56,387.37 L395.8,385.76 Z" fill="#fff"/>
<path d="M401.78,389.79 L400.08,392.01 M395.67,385.98 L394.77,387.14" fill="none" stroke="#000" stroke-width="0.9" stroke-linecap="round"/>
<path d="M360.2,380.88 L358.84,377.74 L365.94,376.58 L365.98,376.59 Z" fill="#fff"/>
<path d="M359.94,380.5 L358.93,378.22 M365.95,376.54 L365.93,376.54" fill="none" stroke="#000" stroke-width="0.9" stroke-linecap="round"/>
<path d="M364.8,341.57 L368.22,340.34 L370.11,347.29 L367.84,348.1 Z" fill="#fff"/>
<path d="M365.24,341.38 L367.72,340.49 M368.11,347.98 L369.75,347.39" fill="none" stroke="#000" stroke-width="0.9" stroke-linecap="round"/>
<path d="M365.81,397.84 L362.72,395.86 L367.26,390.27 L369.08,391.42 Z" fill="#fff"/>
<path d="M365.34,397.6 L363.11,396.16 M368.78,391.27 L367.46,390.43" fill="none" stroke="#000" stroke-width="0.9" stroke-linecap="round"/>
<path d="M403.44,367.67 L403.53,371.46 L396.41,370.4 L396.37,369.08 Z" fill="#fff"/>
<path d="M403.53,368.19 L403.59,370.93 M396.41,369.26 L396.43,370.21" fill="none" stroke="#000" stroke-width="0.9" stroke-linecap="round"/>
<path d="M399.3,346.86 L401.77,349.85 L395.67,353.68 L394.32,352.06 Z" fill="#fff"/>
<path d="M399.68,347.24 L401.47,349.41 M394.55,352.28 L395.52,353.46" fill="none" stroke="#000" stroke-width="0.9" stroke-linecap="round"/>
<path d="M400.43,391.61 L397.53,394.31 L393.19,388.56 L394.98,386.92 Z" fill="#fff"/>
<path d="M400.08,392.01 L397.97,393.97 M394.77,387.14 L393.48,388.34" fill="none" stroke="#000" stroke-width="0.9" stroke-linecap="round"/>
<path d="M382.29,325.93 L386.73,326.77 L384.99,333.76 L381.35,333.07 Z" fill="#fff"/>
<path d="M382.91,326.01 L386.13,326.62 M381.86,333.14 L384.5,333.64" fill="none" stroke="#000" stroke-width="0.9" stroke-linecap="round"/>
<path d="M379.05,325.63 L383.53,326.11 L382.37,333.22 L378.67,332.82 Z" fill="#fff"/>
<path d="M379.67,325.67 L382.91,326.01 M379.18,332.85 L381.86,333.14" fill="none" stroke="#000" stroke-width="0.9" stroke-linecap="round"/>
<path d="M385.52,326.49 L389.84,327.69 L387.49,334.49 L384,333.53 Z" fill="#fff"/>
<path d="M386.13,326.62 L389.25,327.49 M384.5,333.64 L387.02,334.34" fill="none" stroke="#000" stroke-width="0.9" stroke-linecap="round"/>
<path d="M358.77,362.44 L359.92,359.18 L365.95,363.13 L365.95,363.04 Z" fill="#fff"/>
<path d="M358.83,361.95 L359.68,359.58 M365.94,363.09 L365.93,363.16" fill="none" stroke="#000" stroke-width="0.9" stroke-linecap="round"/>
<path d="M362.66,342.78 L365.69,341.19 L368.39,347.86 L366.73,348.72 Z" fill="#fff"/>
<path d="M363.05,342.53 L365.24,341.38 M366.9,348.61 L368.11,347.98" fill="none" stroke="#000" stroke-width="0.9" stroke-linecap="round"/>
<path d="M375.87,325.59 L380.29,325.71 L379.69,332.89 L376.06,332.78 Z" fill="#fff"/>
<path d="M376.47,325.57 L379.67,325.67 M376.55,332.77 L379.18,332.85" fill="none" stroke="#000" stroke-width="0.9" stroke-linecap="round"/>
<path d="M368.39,398.96 L364.89,397.34 L368.49,391.11 L370.87,392.2 Z" fill="#fff"/>
<path d="M367.87,398.76 L365.34,397.6 M370.5,392.06 L368.78,391.27" fill="none" stroke="#000" stroke-width="0.9" stroke-linecap="round"/>
<path d="M361.86,382.59 L359.69,380.1 L365.93,376.51 L366.41,377.01 Z" fill="#fff"/>
<path d="M361.51,382.3 L359.94,380.5 M366.29,376.91 L365.95,376.54" fill="none" stroke="#000" stroke-width="0.9" stroke-linecap="round"/>
<path d="M388.67,327.31 L392.78,328.86 L389.78,335.41 L386.55,334.19 Z" fill="#fff"/>
<path d="M389.25,327.49 L392.23,328.62 M387.02,334.34 L389.36,335.22" fill="none" stroke="#000" stroke-width="0.9" stroke-linecap="round"/>
<path d="M403.63,370.41 L402.8,374.11 L396.13,371.4 L396.44,370.03 Z" fill="#fff"/>
<path d="M403.59,370.93 L402.99,373.61 M396.43,370.21 L396.2,371.2" fill="none" stroke="#000" stroke-width="0.9" stroke-linecap="round"/>
<path d="M372.8,325.79 L377.08,325.57 L377.05,332.77 L373.6,332.95 Z" fill="#fff"/>
<path d="M373.38,325.74 L376.47,325.57 M374.05,332.9 L376.55,332.77" fill="none" stroke="#000" stroke-width="0.9" stroke-linecap="round"/>
<path d="M398.4,393.62 L395.03,395.95 L391.45,389.71 L393.76,388.11 Z" fill="#fff"/>
<path d="M397.97,393.97 L395.53,395.66 M393.48,388.34 L391.81,389.5" fill="none" stroke="#000" stroke-width="0.9" stroke-linecap="round"/>
<path d="M401.17,348.97 L402.98,352.33 L396.2,354.76 L395.37,353.24 Z" fill="#fff"/>
<path d="M401.47,349.41 L402.79,351.84 M395.52,353.46 L396.13,354.56" fill="none" stroke="#000" stroke-width="0.9" stroke-linecap="round"/>
<path d="M371.21,399.83 L367.37,398.56 L370.14,391.91 L372.98,392.85 Z" fill="#fff"/>
<path d="M370.65,399.68 L367.87,398.76 M372.56,392.74 L370.5,392.06" fill="none" stroke="#000" stroke-width="0.9" stroke-linecap="round"/>
<path d="M391.68,328.39 L395.5,330.3 L391.79,336.47 L388.93,335.04 Z" fill="#fff"/>
<path d="M392.23,328.62 L395,330 M389.36,335.22 L391.43,336.26" fill="none" stroke="#000" stroke-width="0.9" stroke-linecap="round"/>
<path d="M369.9,326.25 L373.96,325.69 L374.52,332.86 L371.35,333.3 Z" fill="#fff"/>
<path d="M370.44,326.14 L373.38,325.74 M371.76,333.22 L374.05,332.9" fill="none" stroke="#000" stroke-width="0.9" stroke-linecap="round"/>
<path d="M360.85,344.32 L363.44,342.29 L367.1,348.49 L366.1,349.24 Z" fill="#fff"/>
<path d="M361.16,344 L363.05,342.53 M366.18,349.16 L366.9,348.61" fill="none" stroke="#000" stroke-width="0.9" stroke-linecap="round"/>
<path d="M359.06,365 L358.93,361.47 L365.93,363.13 L365.93,362.81 Z" fill="#fff"/>
<path d="M358.93,364.53 L358.83,361.95 M365.93,362.84 L365.94,363.09" fill="none" stroke="#000" stroke-width="0.9" stroke-linecap="round"/>
<path d="M396.01,395.36 L392.26,397.34 L389.38,390.74 L392.15,389.28 Z" fill="#fff"/>
<path d="M395.53,395.66 L392.81,397.1 M391.81,389.5 L389.8,390.55" fill="none" stroke="#000" stroke-width="0.9" stroke-linecap="round"/>
<path d="M363.87,383.93 L361.18,381.99 L366.19,376.82 L367.32,377.61 Z" fill="#fff"/>
<path d="M363.46,383.7 L361.51,382.3 M367.11,377.49 L366.29,376.91" fill="none" stroke="#000" stroke-width="0.9" stroke-linecap="round"/>
<path d="M403.15,373.11 L401.49,376.54 L395.53,372.5 L396.27,371 Z" fill="#fff"/>
<path d="M402.99,373.61 L401.78,376.1 M396.2,371.2 L395.67,372.28" fill="none" stroke="#000" stroke-width="0.9" stroke-linecap="round"/>
<path d="M374.57,400.33 L370.1,399.53 L372.14,392.62 L375.01,393.14 Z" fill="#fff"/>
<path d="M373.98,400.29 L370.65,399.68 M374.54,393.11 L372.56,392.74" fill="none" stroke="#000" stroke-width="0.9" stroke-linecap="round"/>
<path d="M394.49,329.72 L397.95,331.99 L393.47,337.62 L391.06,336.05 Z" fill="#fff"/>
<path d="M395,330 L397.5,331.64 M391.43,336.26 L393.17,337.4" fill="none" stroke="#000" stroke-width="0.9" stroke-linecap="round"/>
<path d="M378.72,319.22 L383.2,319.29 L382.69,326.47 L379.01,326.41 Z" fill="#fff"/>
<path d="M379.34,319.2 L382.58,319.25 M379.52,326.4 L382.19,326.44" fill="none" stroke="#000" stroke-width="0.9" stroke-linecap="round"/>
<path d="M381.96,319.22 L386.41,319.65 L385.31,326.76 L381.68,326.41 Z" fill="#fff"/>
<path d="M382.58,319.25 L385.8,319.56 M382.19,326.44 L384.82,326.69" fill="none" stroke="#000" stroke-width="0.9" stroke-linecap="round"/>
<path d="M375.53,319.48 L379.96,319.19 L380.02,326.39 L376.41,326.63 Z" fill="#fff"/>
<path d="M376.13,319.41 L379.34,319.2 M376.89,326.57 L379.52,326.4" fill="none" stroke="#000" stroke-width="0.9" stroke-linecap="round"/>
<path d="M367.22,326.94 L370.99,326.05 L372.18,333.15 L369.41,333.8 Z" fill="#fff"/>
<path d="M367.72,326.79 L370.44,326.14 M369.75,333.7 L371.76,333.22" fill="none" stroke="#000" stroke-width="0.9" stroke-linecap="round"/>
<path d="M402.58,351.36 L403.59,355.01 L396.43,355.75 L396.04,354.36 Z" fill="#fff"/>
<path d="M402.79,351.84 L403.53,354.49 M396.13,354.56 L396.41,355.57" fill="none" stroke="#000" stroke-width="0.9" stroke-linecap="round"/>
<path d="M385.19,319.48 L389.52,320.26 L387.81,327.26 L384.32,326.63 Z" fill="#fff"/>
<path d="M385.8,319.56 L388.93,320.12 M384.82,326.69 L387.34,327.15" fill="none" stroke="#000" stroke-width="0.9" stroke-linecap="round"/>
<path d="M393.34,396.84 L389.28,398.47 L387.05,391.63 L390.2,390.36 Z" fill="#fff"/>
<path d="M392.81,397.1 L389.86,398.27 M389.8,390.55 L387.51,391.47" fill="none" stroke="#000" stroke-width="0.9" stroke-linecap="round"/>
<path d="M377.71,400.39 L373.4,400.24 L374.07,393.07 L377.57,393.19 Z" fill="#fff"/>
<path d="M377.1,400.4 L373.98,400.29 M377.07,393.2 L374.54,393.11" fill="none" stroke="#000" stroke-width="0.9" stroke-linecap="round"/>
<path d="M372.45,319.99 L376.74,319.35 L377.39,326.52 L373.95,327.03 Z" fill="#fff"/>
<path d="M373.02,319.88 L376.13,319.41 M374.4,326.94 L376.89,326.57" fill="none" stroke="#000" stroke-width="0.9" stroke-linecap="round"/>
<path d="M388.35,320 L392.47,321.13 L390.09,327.93 L386.87,327.04 Z" fill="#fff"/>
<path d="M388.93,320.12 L391.92,320.95 M387.34,327.15 L389.67,327.79" fill="none" stroke="#000" stroke-width="0.9" stroke-linecap="round"/>
<path d="M390.44,398.07 L386.16,399.34 L384.52,392.33 L387.96,391.31 Z" fill="#fff"/>
<path d="M389.86,398.27 L386.76,399.19 M387.51,391.47 L385.01,392.21" fill="none" stroke="#000" stroke-width="0.9" stroke-linecap="round"/>
<path d="M397.05,331.31 L400.06,333.94 L394.76,338.82 L392.87,337.17 Z" fill="#fff"/>
<path d="M397.5,331.64 L399.68,333.54 M393.17,337.4 L394.55,338.59" fill="none" stroke="#000" stroke-width="0.9" stroke-linecap="round"/>
<path d="M359.46,346.31 L361.5,343.69 L366.28,349.07 L365.92,349.48 Z" fill="#fff"/>
<path d="M359.68,345.89 L361.16,344 M365.93,349.46 L366.18,349.16" fill="none" stroke="#000" stroke-width="0.9" stroke-linecap="round"/>
<path d="M380.94,400.2 L376.5,400.4 L376.58,393.2 L380.23,393.04 Z" fill="#fff"/>
<path d="M380.32,400.26 L377.1,400.4 M379.72,393.08 L377.07,393.2" fill="none" stroke="#000" stroke-width="0.9" stroke-linecap="round"/>
<path d="M402.05,375.64 L399.7,378.71 L394.56,373.68 L395.8,372.07 Z" fill="#fff"/>
<path d="M401.78,376.1 L400.08,378.32 M395.67,372.28 L394.77,373.45" fill="none" stroke="#000" stroke-width="0.9" stroke-linecap="round"/>
<path d="M387.36,399.04 L382.94,399.95 L381.88,392.83 L385.5,392.08 Z" fill="#fff"/>
<path d="M386.76,399.19 L383.56,399.86 M385.01,392.21 L382.39,392.75" fill="none" stroke="#000" stroke-width="0.9" stroke-linecap="round"/>
<path d="M369.54,320.76 L373.61,319.77 L374.87,326.86 L371.72,327.62 Z" fill="#fff"/>
<path d="M370.08,320.59 L373.02,319.88 M372.12,327.5 L374.4,326.94" fill="none" stroke="#000" stroke-width="0.9" stroke-linecap="round"/>
<path d="M384.17,399.75 L379.7,400.3 L379.21,393.12 L382.9,392.66 Z" fill="#fff"/>
<path d="M383.56,399.86 L380.32,400.26 M382.39,392.75 L379.72,393.08" fill="none" stroke="#000" stroke-width="0.9" stroke-linecap="round"/>
<path d="M366.18,384.97 L363.07,383.46 L366.91,377.37 L368.7,378.23 Z" fill="#fff"/>
<path d="M365.72,384.79 L363.46,383.7 M368.41,378.12 L367.11,377.49" fill="none" stroke="#000" stroke-width="0.9" stroke-linecap="round"/>
<path d="M360.2,367.19 L358.84,364.04 L365.94,362.88 L365.98,362.89 Z" fill="#fff"/>
<path d="M359.94,366.81 L358.93,364.53 M365.95,362.85 L365.93,362.84" fill="none" stroke="#000" stroke-width="0.9" stroke-linecap="round"/>
<path d="M364.8,327.88 L368.22,326.65 L370.11,333.6 L367.84,334.41 Z" fill="#fff"/>
<path d="M365.24,327.68 L367.72,326.79 M368.11,334.29 L369.75,333.7" fill="none" stroke="#000" stroke-width="0.9" stroke-linecap="round"/>
<path d="M403.44,353.97 L403.53,357.76 L396.41,356.7 L396.37,355.38 Z" fill="#fff"/>
<path d="M403.53,354.49 L403.59,357.24 M396.41,355.57 L396.43,356.52" fill="none" stroke="#000" stroke-width="0.9" stroke-linecap="round"/>
<path d="M391.36,320.77 L395.2,322.25 L392.09,328.75 L389.25,327.65 Z" fill="#fff"/>
<path d="M391.92,320.95 L394.7,322.02 M389.67,327.79 L391.73,328.58" fill="none" stroke="#000" stroke-width="0.9" stroke-linecap="round"/>
<path d="M366.85,321.77 L370.63,320.44 L372.54,327.38 L369.78,328.35 Z" fill="#fff"/>
<path d="M367.35,321.56 L370.08,320.59 M370.12,328.2 L372.12,327.5" fill="none" stroke="#000" stroke-width="0.9" stroke-linecap="round"/>
<path d="M399.3,333.16 L401.77,336.16 L395.67,339.99 L394.32,338.36 Z" fill="#fff"/>
<path d="M399.68,333.54 L401.47,335.71 M394.55,338.59 L395.52,339.77" fill="none" stroke="#000" stroke-width="0.9" stroke-linecap="round"/>
<path d="M400.43,377.92 L397.53,380.62 L393.19,374.87 L394.98,373.22 Z" fill="#fff"/>
<path d="M400.08,378.32 L397.97,380.27 M394.77,373.45 L393.48,374.64" fill="none" stroke="#000" stroke-width="0.9" stroke-linecap="round"/>
<path d="M368.75,385.77 L365.26,384.6 L368.12,378 L370.5,378.78 Z" fill="#fff"/>
<path d="M368.24,385.63 L365.72,384.79 M370.13,378.69 L368.41,378.12" fill="none" stroke="#000" stroke-width="0.9" stroke-linecap="round"/>
<path d="M358.77,348.75 L359.92,345.49 L365.95,349.43 L365.95,349.35 Z" fill="#fff"/>
<path d="M358.83,348.26 L359.68,345.89 M365.94,349.39 L365.93,349.46" fill="none" stroke="#000" stroke-width="0.9" stroke-linecap="round"/>
<path d="M362.66,329.09 L365.69,327.49 L368.39,334.17 L366.73,335.03 Z" fill="#fff"/>
<path d="M363.05,328.83 L365.24,327.68 M366.9,334.91 L368.11,334.29" fill="none" stroke="#000" stroke-width="0.9" stroke-linecap="round"/>
<path d="M394.18,321.8 L397.67,323.63 L393.75,329.67 L391.36,328.42 Z" fill="#fff"/>
<path d="M394.7,322.02 L397.22,323.35 M391.73,328.58 L393.46,329.49" fill="none" stroke="#000" stroke-width="0.9" stroke-linecap="round"/>
<path d="M361.86,368.9 L359.69,366.41 L365.93,362.81 L366.41,363.31 Z" fill="#fff"/>
<path d="M361.51,368.6 L359.94,366.81 M366.29,363.21 L365.95,362.85" fill="none" stroke="#000" stroke-width="0.9" stroke-linecap="round"/>
<path d="M403.63,356.71 L402.8,360.41 L396.13,357.7 L396.44,356.34 Z" fill="#fff"/>
<path d="M403.59,357.24 L402.99,359.92 M396.43,356.52 L396.2,357.5" fill="none" stroke="#000" stroke-width="0.9" stroke-linecap="round"/>
<path d="M364.43,323.04 L367.85,321.36 L370.48,328.06 L368.21,329.17 Z" fill="#fff"/>
<path d="M364.87,322.78 L367.35,321.56 M368.48,329.01 L370.12,328.2" fill="none" stroke="#000" stroke-width="0.9" stroke-linecap="round"/>
<path d="M398.4,379.92 L395.03,382.26 L391.45,376.01 L393.76,374.42 Z" fill="#fff"/>
<path d="M397.97,380.27 L395.53,381.97 M393.48,374.64 L391.81,375.8" fill="none" stroke="#000" stroke-width="0.9" stroke-linecap="round"/>
<path d="M401.17,335.28 L402.98,338.64 L396.2,341.07 L395.37,339.55 Z" fill="#fff"/>
<path d="M401.47,335.71 L402.79,338.15 M395.52,339.77 L396.13,340.87" fill="none" stroke="#000" stroke-width="0.9" stroke-linecap="round"/>
<path d="M371.57,386.32 L367.74,385.49 L369.77,378.58 L372.63,379.2 Z" fill="#fff"/>
<path d="M371.01,386.24 L368.24,385.63 M372.2,379.13 L370.13,378.69" fill="none" stroke="#000" stroke-width="0.9" stroke-linecap="round"/>
<path d="M396.76,323.08 L399.83,325.28 L395,330.62 L393.16,329.31 Z" fill="#fff"/>
<path d="M397.22,323.35 L399.44,324.94 M393.46,329.49 L394.79,330.44" fill="none" stroke="#000" stroke-width="0.9" stroke-linecap="round"/>
<path d="M360.85,330.63 L363.44,328.59 L367.1,334.8 L366.1,335.55 Z" fill="#fff"/>
<path d="M361.16,330.3 L363.05,328.83 M366.18,335.47 L366.9,334.91" fill="none" stroke="#000" stroke-width="0.9" stroke-linecap="round"/>
<path d="M359.06,351.3 L358.93,347.77 L365.93,349.43 L365.93,349.12 Z" fill="#fff"/>
<path d="M358.93,350.83 L358.83,348.26 M365.93,349.15 L365.94,349.39" fill="none" stroke="#000" stroke-width="0.9" stroke-linecap="round"/>
<path d="M362.32,324.59 L365.32,322.53 L368.76,328.85 L367.07,330 Z" fill="#fff"/>
<path d="M362.7,324.27 L364.87,322.78 M367.25,329.85 L368.48,329.01" fill="none" stroke="#000" stroke-width="0.9" stroke-linecap="round"/>
<path d="M396.01,381.66 L392.26,383.65 L389.38,377.05 L392.15,375.59 Z" fill="#fff"/>
<path d="M395.53,381.97 L392.81,383.4 M391.81,375.8 L389.8,376.86" fill="none" stroke="#000" stroke-width="0.9" stroke-linecap="round"/>
<path d="M363.87,370.23 L361.18,368.29 L366.19,363.12 L367.32,363.91 Z" fill="#fff"/>
<path d="M363.46,370 L361.51,368.6 M367.11,363.79 L366.29,363.21" fill="none" stroke="#000" stroke-width="0.9" stroke-linecap="round"/>
<path d="M403.15,359.42 L401.49,362.85 L395.53,358.8 L396.27,357.31 Z" fill="#fff"/>
<path d="M402.99,359.92 L401.78,362.4 M396.2,357.5 L395.67,358.59" fill="none" stroke="#000" stroke-width="0.9" stroke-linecap="round"/>
<path d="M374.57,386.63 L370.47,386.14 L371.78,379.06 L375.01,379.45 Z" fill="#fff"/>
<path d="M373.98,386.59 L371.01,386.24 M374.54,379.42 L372.2,379.13" fill="none" stroke="#000" stroke-width="0.9" stroke-linecap="round"/>
<path d="M402.58,337.66 L403.59,341.32 L396.43,342.06 L396.04,340.67 Z" fill="#fff"/>
<path d="M402.79,338.15 L403.53,340.8 M396.13,340.87 L396.41,341.87" fill="none" stroke="#000" stroke-width="0.9" stroke-linecap="round"/>
<path d="M393.34,383.15 L389.28,384.78 L387.05,377.93 L390.2,376.67 Z" fill="#fff"/>
<path d="M392.81,383.4 L389.86,384.58 M389.8,376.86 L387.51,377.78" fill="none" stroke="#000" stroke-width="0.9" stroke-linecap="round"/>
<path d="M399.04,324.62 L401.6,327.22 L395.83,331.52 L394.57,330.26 Z" fill="#fff"/>
<path d="M399.44,324.94 L401.3,326.83 M394.79,330.44 L395.7,331.36" fill="none" stroke="#000" stroke-width="0.9" stroke-linecap="round"/>
<path d="M377.71,386.7 L373.4,386.54 L374.07,379.38 L377.57,379.5 Z" fill="#fff"/>
<path d="M377.1,386.71 L373.98,386.59 M377.07,379.51 L374.54,379.42" fill="none" stroke="#000" stroke-width="0.9" stroke-linecap="round"/>
<path d="M390.44,384.37 L386.16,385.65 L384.52,378.63 L387.96,377.61 Z" fill="#fff"/>
<path d="M389.86,384.58 L386.76,385.5 M387.51,377.78 L385.01,378.52" fill="none" stroke="#000" stroke-width="0.9" stroke-linecap="round"/>
<path d="M359.46,332.61 L361.5,329.99 L366.28,335.37 L365.92,335.78 Z" fill="#fff"/>
<path d="M359.68,332.19 L361.16,330.3 M365.93,335.77 L366.18,335.47" fill="none" stroke="#000" stroke-width="0.9" stroke-linecap="round"/>
<path d="M380.94,386.51 L376.5,386.7 L376.58,379.5 L380.23,379.34 Z" fill="#fff"/>
<path d="M380.32,386.56 L377.1,386.71 M379.72,379.39 L377.07,379.51" fill="none" stroke="#000" stroke-width="0.9" stroke-linecap="round"/>
<path d="M360.59,326.45 L363.09,323.96 L367.45,329.69 L366.36,330.75 Z" fill="#fff"/>
<path d="M360.89,326.06 L362.7,324.27 M366.46,330.62 L367.25,329.85" fill="none" stroke="#000" stroke-width="0.9" stroke-linecap="round"/>
<path d="M402.05,361.95 L399.7,365.02 L394.56,359.98 L395.8,358.37 Z" fill="#fff"/>
<path d="M401.78,362.4 L400.08,364.63 M395.67,358.59 L394.77,359.75" fill="none" stroke="#000" stroke-width="0.9" stroke-linecap="round"/>
<path d="M387.36,385.34 L382.94,386.26 L381.88,379.14 L385.5,378.39 Z" fill="#fff"/>
<path d="M386.76,385.5 L383.56,386.16 M385.01,378.52 L382.39,379.06" fill="none" stroke="#000" stroke-width="0.9" stroke-linecap="round"/>
<path d="M384.17,386.06 L379.7,386.61 L379.21,379.43 L382.9,378.97 Z" fill="#fff"/>
<path d="M383.56,386.16 L380.32,386.56 M382.39,379.06 L379.72,379.39" fill="none" stroke="#000" stroke-width="0.9" stroke-linecap="round"/>
<path d="M366.18,371.28 L363.07,369.76 L366.91,363.67 L368.7,364.54 Z" fill="#fff"/>
<path d="M365.72,371.1 L363.46,370 M368.41,364.42 L367.11,363.79" fill="none" stroke="#000" stroke-width="0.9" stroke-linecap="round"/>
<path d="M360.2,353.49 L358.84,350.35 L365.94,349.19 L365.98,349.2 Z" fill="#fff"/>
<path d="M359.94,353.11 L358.93,350.83 M365.95,349.15 L365.93,349.15" fill="none" stroke="#000" stroke-width="0.9" stroke-linecap="round"/>
<path d="M403.44,340.28 L403.53,344.07 L396.41,343.01 L396.37,341.69 Z" fill="#fff"/>
<path d="M403.53,340.8 L403.59,343.54 M396.41,341.87 L396.43,342.82" fill="none" stroke="#000" stroke-width="0.9" stroke-linecap="round"/>
<path d="M400.97,326.44 L402.91,329.48 L396.27,332.28 L395.56,331.19 Z" fill="#fff"/>
<path d="M401.3,326.83 L402.7,329.02 M395.7,331.36 L396.21,332.15" fill="none" stroke="#000" stroke-width="0.9" stroke-linecap="round"/>
<path d="M400.43,364.22 L397.53,366.92 L393.19,361.18 L394.98,359.53 Z" fill="#fff"/>
<path d="M400.08,364.63 L397.97,366.58 M394.77,359.75 L393.48,360.95" fill="none" stroke="#000" stroke-width="0.9" stroke-linecap="round"/>
<path d="M359.34,328.66 L361.2,325.7 L366.58,330.48 L366.04,331.31 Z" fill="#fff"/>
<path d="M359.53,328.21 L360.89,326.06 M366.07,331.22 L366.46,330.62" fill="none" stroke="#000" stroke-width="0.9" stroke-linecap="round"/>
<path d="M368.75,372.07 L365.26,370.91 L368.12,364.3 L370.5,365.09 Z" fill="#fff"/>
<path d="M368.24,371.94 L365.72,371.1 M370.13,364.99 L368.41,364.42" fill="none" stroke="#000" stroke-width="0.9" stroke-linecap="round"/>
<path d="M358.77,335.05 L359.92,331.8 L365.95,335.74 L365.95,335.65 Z" fill="#fff"/>
<path d="M358.83,334.56 L359.68,332.19 M365.94,335.7 L365.93,335.77" fill="none" stroke="#000" stroke-width="0.9" stroke-linecap="round"/>
<path d="M361.86,355.2 L359.69,352.71 L365.93,349.12 L366.41,349.62 Z" fill="#fff"/>
<path d="M361.51,354.91 L359.94,353.11 M366.29,349.52 L365.95,349.15" fill="none" stroke="#000" stroke-width="0.9" stroke-linecap="round"/>
<path d="M403.63,343.02 L402.8,346.72 L396.13,344.01 L396.44,342.64 Z" fill="#fff"/>
<path d="M403.59,343.54 L402.99,346.22 M396.43,342.82 L396.2,343.81" fill="none" stroke="#000" stroke-width="0.9" stroke-linecap="round"/>
<path d="M402.47,328.58 L403.59,332.01 L396.44,332.87 L396.14,332.01 Z" fill="#fff"/>
<path d="M402.7,329.02 L403.51,331.51 M396.21,332.15 L396.42,332.77" fill="none" stroke="#000" stroke-width="0.9" stroke-linecap="round"/>
<path d="M398.4,366.23 L395.03,368.56 L391.45,362.32 L393.76,360.72 Z" fill="#fff"/>
<path d="M397.97,366.58 L395.53,368.27 M393.48,360.95 L391.81,362.11" fill="none" stroke="#000" stroke-width="0.9" stroke-linecap="round"/>
<path d="M371.57,372.63 L367.74,371.8 L369.77,364.89 L372.63,365.51 Z" fill="#fff"/>
<path d="M371.01,372.54 L368.24,371.94 M372.2,365.44 L370.13,364.99" fill="none" stroke="#000" stroke-width="0.9" stroke-linecap="round"/>
<path d="M358.77,331.17 L359.75,327.77 L366.12,331.12 L365.95,331.65 Z" fill="#fff"/>
<path d="M358.82,330.68 L359.53,328.21 M365.96,331.6 L366.07,331.22" fill="none" stroke="#000" stroke-width="0.9" stroke-linecap="round"/>
<path d="M359.06,337.61 L358.93,334.08 L365.93,335.74 L365.93,335.42 Z" fill="#fff"/>
<path d="M358.93,337.14 L358.83,334.56 M365.93,335.45 L365.94,335.7" fill="none" stroke="#000" stroke-width="0.9" stroke-linecap="round"/>
<path d="M396.01,367.97 L392.26,369.95 L389.38,363.35 L392.15,361.89 Z" fill="#fff"/>
<path d="M395.53,368.27 L392.81,369.71 M391.81,362.11 L389.8,363.16" fill="none" stroke="#000" stroke-width="0.9" stroke-linecap="round"/>
<path d="M363.87,356.54 L361.18,354.6 L366.19,349.43 L367.32,350.22 Z" fill="#fff"/>
<path d="M363.46,356.31 L361.51,354.91 M367.11,350.1 L366.29,349.52" fill="none" stroke="#000" stroke-width="0.9" stroke-linecap="round"/>
<path d="M403.15,345.73 L401.49,349.15 L395.53,345.11 L396.27,343.61 Z" fill="#fff"/>
<path d="M402.99,346.22 L401.78,348.71 M396.2,343.81 L395.67,344.89" fill="none" stroke="#000" stroke-width="0.9" stroke-linecap="round"/>
<path d="M374.57,372.94 L370.47,372.44 L371.78,365.36 L375.01,365.75 Z" fill="#fff"/>
<path d="M373.98,372.9 L371.01,372.54 M374.54,365.72 L372.2,365.44" fill="none" stroke="#000" stroke-width="0.9" stroke-linecap="round"/>
<path d="M403.41,331.02 L403.52,334.63 L396.42,333.39 L396.4,332.66 Z" fill="#fff"/>
<path d="M403.51,331.51 L403.59,334.13 M396.42,332.77 L396.44,333.29" fill="none" stroke="#000" stroke-width="0.9" stroke-linecap="round"/>
<path d="M393.34,369.45 L389.28,371.08 L387.05,364.24 L390.2,362.97 Z" fill="#fff"/>
<path d="M392.81,369.71 L389.86,370.88 M389.8,363.16 L387.51,364.08" fill="none" stroke="#000" stroke-width="0.9" stroke-linecap="round"/>
<path d="M377.71,373 L373.4,372.85 L374.07,365.68 L377.57,365.8 Z" fill="#fff"/>
<path d="M377.1,373.01 L373.98,372.9 M377.07,365.81 L374.54,365.72" fill="none" stroke="#000" stroke-width="0.9" stroke-linecap="round"/>
<path d="M390.44,370.68 L386.16,371.95 L384.52,364.94 L387.96,363.92 Z" fill="#fff"/>
<path d="M389.86,370.88 L386.76,371.81 M387.51,364.08 L385.01,364.82" fill="none" stroke="#000" stroke-width="0.9" stroke-linecap="round"/>
<path d="M359.01,333.74 L358.9,330.19 L365.97,331.54 L365.98,331.95 Z" fill="#fff"/>
<path d="M358.9,333.26 L358.82,330.68 M365.97,331.89 L365.96,331.6" fill="none" stroke="#000" stroke-width="0.9" stroke-linecap="round"/>
<path d="M380.94,372.81 L376.5,373.01 L376.58,365.81 L380.23,365.65 Z" fill="#fff"/>
<path d="M380.32,372.87 L377.1,373.01 M379.72,365.69 L377.07,365.81" fill="none" stroke="#000" stroke-width="0.9" stroke-linecap="round"/>
<path d="M402.05,348.25 L399.7,351.32 L394.56,346.29 L395.8,344.68 Z" fill="#fff"/>
<path d="M401.78,348.71 L400.08,350.93 M395.67,344.89 L394.77,346.06" fill="none" stroke="#000" stroke-width="0.9" stroke-linecap="round"/>
<path d="M387.36,371.65 L382.94,372.56 L381.88,365.44 L385.5,364.69 Z" fill="#fff"/>
<path d="M386.76,371.81 L383.56,372.47 M385.01,364.82 L382.39,365.36" fill="none" stroke="#000" stroke-width="0.9" stroke-linecap="round"/>
<path d="M384.17,372.36 L379.7,372.91 L379.21,365.73 L382.9,365.27 Z" fill="#fff"/>
<path d="M383.56,372.47 L380.32,372.87 M382.39,365.36 L379.72,365.69" fill="none" stroke="#000" stroke-width="0.9" stroke-linecap="round"/>
<path d="M366.18,357.58 L363.07,356.07 L366.91,349.98 L368.7,350.84 Z" fill="#fff"/>
<path d="M365.72,357.4 L363.46,356.31 M368.41,350.73 L367.11,350.1" fill="none" stroke="#000" stroke-width="0.9" stroke-linecap="round"/>
<path d="M360.2,339.8 L358.84,336.65 L365.94,335.49 L365.98,335.5 Z" fill="#fff"/>
<path d="M359.94,339.42 L358.93,337.14 M365.95,335.46 L365.93,335.45" fill="none" stroke="#000" stroke-width="0.9" stroke-linecap="round"/>
<path d="M403.63,333.63 L402.71,337.12 L396.22,334.01 L396.45,333.19 Z" fill="#fff"/>
<path d="M403.59,334.13 L402.92,336.66 M396.44,333.29 L396.28,333.88" fill="none" stroke="#000" stroke-width="0.9" stroke-linecap="round"/>
<path d="M400.43,350.53 L397.53,353.23 L393.19,347.48 L394.98,345.83 Z" fill="#fff"/>
<path d="M400.08,350.93 L397.97,352.88 M394.77,346.06 L393.48,347.25" fill="none" stroke="#000" stroke-width="0.9" stroke-linecap="round"/>
<path d="M368.75,358.38 L365.26,357.22 L368.12,350.61 L370.5,351.39 Z" fill="#fff"/>
<path d="M368.24,358.25 L365.72,357.4 M370.13,351.3 L368.41,350.73" fill="none" stroke="#000" stroke-width="0.9" stroke-linecap="round"/>
<path d="M360,336.1 L358.82,332.77 L365.96,331.83 L366.18,332.41 Z" fill="#fff"/>
<path d="M359.76,335.67 L358.9,333.26 M366.12,332.31 L365.97,331.89" fill="none" stroke="#000" stroke-width="0.9" stroke-linecap="round"/>
<path d="M361.86,341.51 L359.69,339.02 L365.93,335.43 L366.41,335.92 Z" fill="#fff"/>
<path d="M361.51,341.21 L359.94,339.42 M366.29,335.82 L365.95,335.46" fill="none" stroke="#000" stroke-width="0.9" stroke-linecap="round"/>
<path d="M403.1,336.2 L401.31,339.32 L395.71,334.8 L396.32,333.76 Z" fill="#fff"/>
<path d="M402.92,336.66 L401.62,338.92 M396.28,333.88 L395.83,334.64" fill="none" stroke="#000" stroke-width="0.9" stroke-linecap="round"/>
<path d="M398.4,352.53 L395.03,354.87 L391.45,348.62 L393.76,347.03 Z" fill="#fff"/>
<path d="M397.97,352.88 L395.53,354.58 M393.48,347.25 L391.81,348.41" fill="none" stroke="#000" stroke-width="0.9" stroke-linecap="round"/>
<path d="M371.57,358.93 L367.74,358.1 L369.77,351.2 L372.63,351.81 Z" fill="#fff"/>
<path d="M371.01,358.85 L368.24,358.25 M372.2,351.74 L370.13,351.3" fill="none" stroke="#000" stroke-width="0.9" stroke-linecap="round"/>
<path d="M361.55,338.1 L359.54,335.24 L366.08,332.21 L366.72,333.09 Z" fill="#fff"/>
<path d="M361.22,337.75 L359.76,335.67 M366.58,332.95 L366.12,332.31" fill="none" stroke="#000" stroke-width="0.9" stroke-linecap="round"/>
<path d="M396.01,354.27 L392.26,356.26 L389.38,349.66 L392.15,348.2 Z" fill="#fff"/>
<path d="M395.53,354.58 L392.81,356.01 M391.81,348.41 L389.8,349.47" fill="none" stroke="#000" stroke-width="0.9" stroke-linecap="round"/>
<path d="M363.87,342.84 L361.18,340.9 L366.19,335.73 L367.32,336.52 Z" fill="#fff"/>
<path d="M363.46,342.61 L361.51,341.21 M367.11,336.4 L366.29,335.82" fill="none" stroke="#000" stroke-width="0.9" stroke-linecap="round"/>
<path d="M374.57,359.24 L370.47,358.75 L371.78,351.67 L375.01,352.06 Z" fill="#fff"/>
<path d="M373.98,359.2 L371.01,358.85 M374.54,352.03 L372.2,351.74" fill="none" stroke="#000" stroke-width="0.9" stroke-linecap="round"/>
<path d="M401.91,338.52 L399.46,341.21 L394.8,335.72 L395.95,334.48 Z" fill="#fff"/>
<path d="M401.62,338.92 L399.84,340.87 M395.83,334.64 L395.01,335.53" fill="none" stroke="#000" stroke-width="0.9" stroke-linecap="round"/>
<path d="M393.34,355.76 L389.28,357.39 L387.05,350.54 L390.2,349.28 Z" fill="#fff"/>
<path d="M392.81,356.01 L389.86,357.19 M389.8,349.47 L387.51,350.39" fill="none" stroke="#000" stroke-width="0.9" stroke-linecap="round"/>
<path d="M377.71,359.31 L373.4,359.15 L374.07,351.99 L377.57,352.11 Z" fill="#fff"/>
<path d="M377.1,359.32 L373.98,359.2 M377.07,352.12 L374.54,352.03" fill="none" stroke="#000" stroke-width="0.9" stroke-linecap="round"/>
<path d="M363.51,339.77 L360.9,337.38 L366.47,332.81 L367.68,333.9 Z" fill="#fff"/>
<path d="M363.11,339.48 L361.22,337.75 M367.46,333.74 L366.58,332.95" fill="none" stroke="#000" stroke-width="0.9" stroke-linecap="round"/>
<path d="M390.44,356.98 L386.16,358.26 L384.52,351.24 L387.96,350.22 Z" fill="#fff"/>
<path d="M389.86,357.19 L386.76,358.11 M387.51,350.39 L385.01,351.13" fill="none" stroke="#000" stroke-width="0.9" stroke-linecap="round"/>
<path d="M380.94,359.12 L376.5,359.31 L376.58,352.11 L380.23,351.95 Z" fill="#fff"/>
<path d="M380.32,359.17 L377.1,359.32 M379.72,352 L377.07,352.12" fill="none" stroke="#000" stroke-width="0.9" stroke-linecap="round"/>
<path d="M387.36,357.95 L382.94,358.87 L381.88,351.75 L385.5,351 Z" fill="#fff"/>
<path d="M386.76,358.11 L383.56,358.77 M385.01,351.13 L382.39,351.67" fill="none" stroke="#000" stroke-width="0.9" stroke-linecap="round"/>
<path d="M384.17,358.67 L379.7,359.22 L379.21,352.04 L382.9,351.58 Z" fill="#fff"/>
<path d="M383.56,358.77 L380.32,359.17 M382.39,351.67 L379.72,352" fill="none" stroke="#000" stroke-width="0.9" stroke-linecap="round"/>
<path d="M365.81,343.89 L363.07,342.37 L366.91,336.28 L369.08,337.48 Z" fill="#fff"/>
<path d="M365.34,343.65 L363.46,342.61 M368.78,337.32 L367.11,336.4" fill="none" stroke="#000" stroke-width="0.9" stroke-linecap="round"/>
<path d="M400.21,340.52 L397.24,342.8 L393.47,336.67 L395.2,335.36 Z" fill="#fff"/>
<path d="M399.84,340.87 L397.69,342.52 M395.01,335.53 L393.76,336.49" fill="none" stroke="#000" stroke-width="0.9" stroke-linecap="round"/>
<path d="M365.81,341.15 L362.72,339.17 L367.26,333.58 L369.08,334.74 Z" fill="#fff"/>
<path d="M365.34,340.91 L363.11,339.48 M368.78,334.58 L367.46,333.74" fill="none" stroke="#000" stroke-width="0.9" stroke-linecap="round"/>
<path d="M368.39,345.01 L364.89,343.4 L368.49,337.16 L370.87,338.25 Z" fill="#fff"/>
<path d="M367.87,344.82 L365.34,343.65 M370.5,338.11 L368.78,337.32" fill="none" stroke="#000" stroke-width="0.9" stroke-linecap="round"/>
<path d="M398.13,342.22 L394.72,344.13 L391.75,337.57 L394.03,336.31 Z" fill="#fff"/>
<path d="M397.69,342.52 L395.22,343.9 M393.76,336.49 L392.11,337.41" fill="none" stroke="#000" stroke-width="0.9" stroke-linecap="round"/>
<path d="M367.87,342.08 L364.89,340.66 L368.49,334.42 L370.5,335.37 Z" fill="#fff"/>
<path d="M367.87,342.08 L365.34,340.91 M370.5,335.37 L368.78,334.58" fill="none" stroke="#000" stroke-width="0.9" stroke-linecap="round"/>
<path d="M371.21,345.88 L367.37,344.61 L370.14,337.97 L372.98,338.9 Z" fill="#fff"/>
<path d="M370.65,345.73 L367.87,344.82 M372.56,338.79 L370.5,338.11" fill="none" stroke="#000" stroke-width="0.9" stroke-linecap="round"/>
<path d="M395.72,343.66 L391.94,345.21 L389.69,338.37 L392.45,337.24 Z" fill="#fff"/>
<path d="M395.22,343.9 L392.49,345.02 M392.11,337.41 L390.11,338.23" fill="none" stroke="#000" stroke-width="0.9" stroke-linecap="round"/>
<path d="M393.03,344.83 L388.96,346.03 L387.37,339.01 L390.52,338.08 Z" fill="#fff"/>
<path d="M392.49,345.02 L389.54,345.9 M390.11,338.23 L387.83,338.9" fill="none" stroke="#000" stroke-width="0.9" stroke-linecap="round"/>
<path d="M374.22,346.5 L370.1,345.58 L372.14,338.67 L375.36,339.39 Z" fill="#fff"/>
<path d="M373.63,346.4 L370.65,345.73 M374.89,339.31 L372.56,338.79" fill="none" stroke="#000" stroke-width="0.9" stroke-linecap="round"/>
<path d="M390.12,345.75 L385.83,346.6 L384.84,339.47 L388.28,338.79 Z" fill="#fff"/>
<path d="M389.54,345.9 L386.44,346.51 M387.83,338.9 L385.34,339.4" fill="none" stroke="#000" stroke-width="0.9" stroke-linecap="round"/>
<path d="M377.37,346.87 L373.05,346.29 L374.43,339.23 L377.91,339.69 Z" fill="#fff"/>
<path d="M376.76,346.82 L373.63,346.4 M377.41,339.65 L374.89,339.31" fill="none" stroke="#000" stroke-width="0.9" stroke-linecap="round"/>
<path d="M387.04,346.42 L382.61,346.91 L382.21,339.72 L385.83,339.32 Z" fill="#fff"/>
<path d="M386.44,346.51 L383.23,346.87 M385.34,339.4 L382.72,339.69" fill="none" stroke="#000" stroke-width="0.9" stroke-linecap="round"/>
<path d="M380.6,346.98 L376.16,346.76 L376.92,339.6 L380.56,339.78 Z" fill="#fff"/>
<path d="M379.98,346.98 L376.76,346.82 M380.05,339.78 L377.41,339.65" fill="none" stroke="#000" stroke-width="0.9" stroke-linecap="round"/>
<path d="M383.85,346.83 L379.37,346.96 L379.54,339.77 L383.22,339.65 Z" fill="#fff"/>
<path d="M383.23,346.87 L379.98,346.98 M382.72,339.69 L380.05,339.78" fill="none" stroke="#000" stroke-width="0.9" stroke-linecap="round"/>
<path d="M367.87,342.08 L370.5,335.37" stroke="#000" stroke-width="1.2"/>
<path d="M388.93,376.81 L387.34,383.83" stroke="#000" stroke-width="1.2"/>
<ellipse cx="381.2" cy="417.9" rx="20.6" ry="10.9" fill="#fff" stroke="#000" stroke-width="1" />
<ellipse cx="381.2" cy="416.6" rx="20.6" ry="10.9" fill="#fff" stroke="#000" stroke-width="0.9" />
<ellipse cx="381.2" cy="417.2" rx="14.8" ry="8.4" fill="#fff" stroke="#000" stroke-width="1.2" />
<ellipse cx="381.2" cy="415.2" rx="15" ry="8.6" fill="#fff" stroke="#000" stroke-width="1.9" />
<path d="M367.2,416.8 A14,4.8 0 0 1 395.2,416.8" fill="none" stroke="#000" stroke-width="0.8" />
<path d="M362.3,445.9 L362.3,469.2 A18.9,9.8 0 0 0 400.1,469.2 L400.1,445.9 Z" fill="#fff" stroke="#000" stroke-width="1" />
<path d="M362.3,450.1 A18.9,9.8 0 0 0 400.1,450.1" fill="none" stroke="#111" stroke-width="0.9" />
<path d="M362.3,451.7 A18.9,9.8 0 0 0 400.1,451.7" fill="none" stroke="#444" stroke-width="0.55" />
<path d="M362.3,453.92 A18.9,9.8 0 0 0 400.1,453.92" fill="none" stroke="#111" stroke-width="0.9" />
<path d="M362.3,455.52 A18.9,9.8 0 0 0 400.1,455.52" fill="none" stroke="#444" stroke-width="0.55" />
<path d="M362.3,457.74 A18.9,9.8 0 0 0 400.1,457.74" fill="none" stroke="#111" stroke-width="0.9" />
<path d="M362.3,459.34 A18.9,9.8 0 0 0 400.1,459.34" fill="none" stroke="#444" stroke-width="0.55" />
<path d="M362.3,461.56 A18.9,9.8 0 0 0 400.1,461.56" fill="none" stroke="#111" stroke-width="0.9" />
<path d="M362.3,463.16 A18.9,9.8 0 0 0 400.1,463.16" fill="none" stroke="#444" stroke-width="0.55" />
<path d="M362.3,465.38 A18.9,9.8 0 0 0 400.1,465.38" fill="none" stroke="#111" stroke-width="0.9" />
<path d="M362.3,466.98 A18.9,9.8 0 0 0 400.1,466.98" fill="none" stroke="#444" stroke-width="0.55" />
<path d="M362.3,469.2 A18.9,9.8 0 0 0 400.1,469.2" fill="none" stroke="#111" stroke-width="0.9" />
<ellipse cx="381.2" cy="445.9" rx="18.9" ry="9.8" fill="#fff" stroke="#000" stroke-width="1" />
<ellipse cx="381.2" cy="446.3" rx="15.3" ry="7.6" fill="#fff" stroke="#000" stroke-width="1" />
<clipPath id="hc4248"><ellipse cx="381.2" cy="446.3" rx="15.0" ry="7.2"/></clipPath>
<g clip-path="url(#hc4248)">
<path d="M365.6,445.6 A15.6,7.6 0 0 1 396.8,445.6" fill="none" stroke="#222" stroke-width="0.7" />
<path d="M365.6,447.55 A15.6,7.6 0 0 1 396.8,447.55" fill="none" stroke="#222" stroke-width="0.7" />
<path d="M365.6,449.5 A15.6,7.6 0 0 1 396.8,449.5" fill="none" stroke="#222" stroke-width="0.7" />
<path d="M365.6,451.45 A15.6,7.6 0 0 1 396.8,451.45" fill="none" stroke="#222" stroke-width="0.7" />
<path d="M365.6,453.4 A15.6,7.6 0 0 1 396.8,453.4" fill="none" stroke="#222" stroke-width="0.7" />
<path d="M365.6,455.35 A15.6,7.6 0 0 1 396.8,455.35" fill="none" stroke="#222" stroke-width="0.7" />
<path d="M365.6,457.3 A15.6,7.6 0 0 1 396.8,457.3" fill="none" stroke="#222" stroke-width="0.7" />
<path d="M365.6,459.25 A15.6,7.6 0 0 1 396.8,459.25" fill="none" stroke="#222" stroke-width="0.7" />
</g>
<path d="M367.7,449.4 Q369.2,451.5 372.2,452.1" fill="none" stroke="#000" stroke-width="1.3" />
<ellipse cx="381.2" cy="496.3" rx="21.1" ry="11.4" fill="#fff" stroke="#000" stroke-width="1.1" />
<ellipse cx="381.2" cy="495" rx="21.1" ry="11.4" fill="#fff" stroke="#000" stroke-width="0.9" />
<ellipse cx="381.2" cy="493.8" rx="16" ry="9.6" fill="#fff" stroke="#000" stroke-width="1.1" />
<ellipse cx="381.2" cy="494.8" rx="15.2" ry="8.6" fill="none" stroke="#000" stroke-width="0.7" />
<path d="M365,496.6 L361.4,497.6 M392.7,501.3 L396,503.4" fill="none" stroke="#000" stroke-width="0.9" />
<rect x="362.6" y="496.4" width="2" height="1.4" fill="#000"/>
<ellipse cx="381.2" cy="539.9" rx="9.35" ry="4.8" fill="#fff" stroke="#000" stroke-width="1" />
<rect x="371.85" y="537.7" width="18.7" height="2.2" fill="#fff"/>
<path d="M371.85,537.7 L371.85,539.9 M390.55,537.7 L390.55,539.9" fill="none" stroke="#000" stroke-width="1" />
<ellipse cx="381.2" cy="538.8" rx="9.35" ry="4.8" fill="none" stroke="#000" stroke-width="0.5" />
<ellipse cx="381.2" cy="537.7" rx="9.35" ry="4.8" fill="#fff" stroke="#000" stroke-width="1" />
<ellipse cx="381.2" cy="537.7" rx="3.2" ry="2" fill="#777" stroke="#000" stroke-width="1" />
<ellipse cx="381.2" cy="537.9" rx="1.3" ry="0.8" fill="#222" stroke="#000" stroke-width="0.5" />
<ellipse cx="381.2" cy="576.8" rx="3.6" ry="2" fill="#fff" stroke="#000" stroke-width="1.1" />
<ellipse cx="381.2" cy="598.4" rx="9.35" ry="4.8" fill="#fff" stroke="#000" stroke-width="1" />
<rect x="371.85" y="596.2" width="18.7" height="2.2" fill="#fff"/>
<path d="M371.85,596.2 L371.85,598.4 M390.55,596.2 L390.55,598.4" fill="none" stroke="#000" stroke-width="1" />
<ellipse cx="381.2" cy="597.3" rx="9.35" ry="4.8" fill="none" stroke="#000" stroke-width="0.5" />
<ellipse cx="381.2" cy="596.2" rx="9.35" ry="4.8" fill="#fff" stroke="#000" stroke-width="1" />
<ellipse cx="381.2" cy="596.2" rx="3.4" ry="1.9" fill="#fff" stroke="#000" stroke-width="0.8" />
<ellipse cx="381.2" cy="596.6" rx="2" ry="1" fill="#fff" stroke="#666" stroke-width="0.5" />
<rect x="378" y="619.9" width="6.4" height="71.6" fill="#fff" stroke="#000" stroke-width="1"/>
<ellipse cx="381.2" cy="620.1" rx="3.2" ry="2" fill="#000" stroke="#000" stroke-width="0.8" />
<line x1="378" y1="625.9" x2="384.4" y2="625.9" stroke="#000" stroke-width="0.8"/>
<line x1="378" y1="645.4" x2="384.4" y2="645.4" stroke="#000" stroke-width="0.8"/>
<line x1="378" y1="649.9" x2="384.4" y2="649.9" stroke="#000" stroke-width="0.8"/>
<path d="M368.8,687.3 L368.8,769.9 A12.4,5.8 0 0 0 393.6,769.9 L393.6,687.3 Z" fill="#fff" stroke="#000" stroke-width="1.1" />
<path d="M368.8,767.4 A12.4,5.8 0 0 0 393.6,767.4" fill="none" stroke="#000" stroke-width="0.8" />
<path d="M368.8,697.3 A12.4,5.8 0 0 0 393.6,697.3" fill="none" stroke="#000" stroke-width="1.6" />
<path d="M368.8,690.3 A12.4,5.8 0 0 0 393.6,690.3" fill="none" stroke="#000" stroke-width="0.8" />
<ellipse cx="381.2" cy="687.3" rx="12.4" ry="5.8" fill="#fff" stroke="#000" stroke-width="1.1" />
<ellipse cx="374.2" cy="684.8" rx="0.8" ry="0.6" fill="#000" stroke="#000" stroke-width="0.5" />
<ellipse cx="388.2" cy="684.8" rx="0.8" ry="0.6" fill="#000" stroke="#000" stroke-width="0.5" />
<ellipse cx="374.2" cy="689.8" rx="0.8" ry="0.6" fill="#000" stroke="#000" stroke-width="0.5" />
<ellipse cx="388.2" cy="689.8" rx="0.8" ry="0.6" fill="#000" stroke="#000" stroke-width="0.5" />
<rect x="378" y="679.5" width="6.4" height="9.8" fill="#fff" stroke="none"/>
<path d="M378,679.5 L378,689.8 A3.2,1.5 0 0 0 384.4,689.8 L384.4,679.5" fill="none" stroke="#000" stroke-width="1" />
<path d="M365.8,741 L365.8,744.3 A15.4,7.6 0 0 0 396.6,744.3 L396.6,741 A15.4,7.6 0 0 1 365.8,741 Z" fill="#fff" stroke="#000" stroke-width="1.1" />
<path d="M365.8,741 A15.4,7.6 0 1 0 396.6,741 A15.4,7.6 0 1 0 365.8,741 Z M367.9,740.4 A13.3,6.3 0 1 0 394.5,740.4 A13.3,6.3 0 1 0 367.9,740.4 Z" fill="#fff" stroke="#000" stroke-width="1.1" fill-rule="evenodd"/>
<path d="M368.7,741.6 A12.5,6.3 0 0 0 393.7,741.6" fill="none" stroke="#000" stroke-width="0.7" />
<path d="M368.8,731.9 L368.8,740.4 A12.4,5.87 0 0 0 393.6,740.4 L393.6,731.9 Z" fill="#fff"/>
<path d="M368.8,731.9 L368.8,740.4 A12.4,5.87 0 0 0 393.6,740.4 L393.6,731.9" fill="none" stroke="#000" stroke-width="1" />
<rect x="367.27" y="745.12" width="2.8" height="3.9" fill="#fff" stroke="#000" stroke-width="0.8"/>
<rect x="372.42" y="747.37" width="2.8" height="3.9" fill="#fff" stroke="#000" stroke-width="0.8"/>
<rect x="379.03" y="748.29" width="2.8" height="3.9" fill="#fff" stroke="#000" stroke-width="0.8"/>
<rect x="385.8" y="747.7" width="2.8" height="3.9" fill="#fff" stroke="#000" stroke-width="0.8"/>
<rect x="391.37" y="745.72" width="2.8" height="3.9" fill="#fff" stroke="#000" stroke-width="0.8"/>
<path d="M360.7,727.5 L360.7,730.7 A20.5,10.3 0 0 0 401.7,730.7 L401.7,727.5 A20.5,10.3 0 0 1 360.7,727.5 Z" fill="#fff" stroke="#000" stroke-width="1.2" />
<path d="M360.7,727.5 A20.5,10.3 0 1 0 401.7,727.5 A20.5,10.3 0 1 0 360.7,727.5 Z M366,726.9 A15.2,7.4 0 1 0 396.4,726.9 A15.2,7.4 0 1 0 366,726.9 Z" fill="#fff" stroke="#000" stroke-width="1.2" fill-rule="evenodd"/>
<path d="M366.8,728.1 A14.4,7.4 0 0 0 395.6,728.1" fill="none" stroke="#000" stroke-width="0.7" />
<path d="M368.8,715.7 L368.8,726.9 A12.4,6.04 0 0 0 393.6,726.9 L393.6,715.7 Z" fill="#fff"/>
<path d="M368.8,715.7 L368.8,726.9 A12.4,6.04 0 0 0 393.6,726.9 L393.6,715.7" fill="none" stroke="#000" stroke-width="1" />
<rect x="363.12" y="733.19" width="2.8" height="3.8" fill="#fff" stroke="#000" stroke-width="0.8"/>
<rect x="375.73" y="737.29" width="2.8" height="3.8" fill="#fff" stroke="#000" stroke-width="0.8"/>
<rect x="390.52" y="735.98" width="2.8" height="3.8" fill="#fff" stroke="#000" stroke-width="0.8"/>
<path d="M366,830 L366,847.6 Q366,854.6 372.4,854.6 Q378.9,854.1 378.9,847.1 L378.9,841 Z" fill="#fff" stroke="#000" stroke-width="1" />
<ellipse cx="371.9" cy="846.6" rx="2.2" ry="3.5" fill="#fff" stroke="#000" stroke-width="0.9" transform="rotate(35 371.9 846.6)"/>
<ellipse cx="371.9" cy="846.6" rx="1" ry="2.2" fill="#fff" stroke="#000" stroke-width="0.6" transform="rotate(35 371.9 846.6)"/>
<path d="M383,840 L383,858.6 Q383,865.6 389.7,865.6 Q396.4,865.6 396.4,858.6 L396.4,830 Z" fill="#fff" stroke="#000" stroke-width="1" />
<path d="M387.2,851.6 L394.7,848.6 L394.7,859.6 L387.2,862.1 Z" fill="none" stroke="#000" stroke-width="0.9"/>
<ellipse cx="391.2" cy="856.6" rx="2" ry="3.2" fill="#fff" stroke="#000" stroke-width="0.9" transform="rotate(35 391.2 856.6)"/>
<ellipse cx="391.2" cy="856.6" rx="0.9" ry="1.9" fill="#fff" stroke="#000" stroke-width="0.6" transform="rotate(35 391.2 856.6)"/>
<path d="M366.9,796.3 L366.9,831.7 A14.3,7.3 0 0 0 395.5,831.7 L395.5,796.3 Z" fill="#fff" stroke="#000" stroke-width="1.1" />
<path d="M366.9,827.2 A14.3,7.3 0 0 0 395.5,827.2" fill="none" stroke="#000" stroke-width="0.9" />
<path d="M366.9,828.5 A14.3,7.3 0 0 0 395.5,828.5" fill="none" stroke="#000" stroke-width="0.6" />
<ellipse cx="381.2" cy="796.3" rx="14.3" ry="7.3" fill="#000" stroke="#000" stroke-width="1" />
<ellipse cx="381.2" cy="796.7" rx="12.3" ry="5.3" fill="#fff" stroke="#000" stroke-width="0.5" />
<path d="M367.6,808.5 L378.2,811.5 L378.2,833 L367.6,830 Z" fill="#111"/>
<path d="M368.6,810.5 L377.2,813 L377.2,831.5 L368.6,829 Z" fill="none" stroke="#fff" stroke-width="0.6"/>
<rect x="370.1" y="814.5" width="4" height="2" fill="#fff"/>
<rect x="372.1" y="818.5" width="3.5" height="3" fill="#ddd"/>
<rect x="370.1" y="824.5" width="5" height="1.5" fill="#bbb"/>
<ellipse cx="358.6" cy="835.3" rx="3.1" ry="4.7" fill="#fff" stroke="#000" stroke-width="0.85" transform="rotate(38 358.6 835.3)"/>
<ellipse cx="358.6" cy="835.3" rx="2.2" ry="3.6" fill="none" stroke="#000" stroke-width="0.5" transform="rotate(38 358.6 835.3)"/>
<ellipse cx="358.6" cy="835.3" rx="1.2" ry="2.2" fill="#fff" stroke="#000" stroke-width="0.8" transform="rotate(38 358.6 835.3)"/>
<ellipse cx="402.1" cy="864.8" rx="3.1" ry="4.7" fill="#fff" stroke="#000" stroke-width="0.85" transform="rotate(38 402.1 864.8)"/>
<ellipse cx="402.1" cy="864.8" rx="2.2" ry="3.6" fill="none" stroke="#000" stroke-width="0.5" transform="rotate(38 402.1 864.8)"/>
<ellipse cx="402.1" cy="864.8" rx="1.2" ry="2.2" fill="#fff" stroke="#000" stroke-width="0.8" transform="rotate(38 402.1 864.8)"/>
<line x1="183.5" y1="98" x2="260.5" y2="110.8" stroke="#333" stroke-width="0.75"/>
<line x1="183.5" y1="136.5" x2="238.5" y2="147" stroke="#333" stroke-width="0.75"/>
<line x1="183.5" y1="159" x2="257" y2="171.8" stroke="#333" stroke-width="0.75"/>
<line x1="183.5" y1="181" x2="241.3" y2="190" stroke="#333" stroke-width="0.75"/>
<line x1="183.5" y1="202.5" x2="257" y2="212.5" stroke="#333" stroke-width="0.75"/>
<line x1="183.5" y1="226" x2="242" y2="234" stroke="#333" stroke-width="0.75"/>
<line x1="183.5" y1="263.5" x2="248" y2="273" stroke="#333" stroke-width="0.75"/>
<line x1="183.5" y1="329" x2="241" y2="337" stroke="#333" stroke-width="0.75"/>
<line x1="183.5" y1="394.3" x2="242.5" y2="402.6" stroke="#333" stroke-width="0.75"/>
<line x1="183.5" y1="429" x2="243.5" y2="438.6" stroke="#333" stroke-width="0.75"/>
<line x1="183.5" y1="463" x2="242" y2="472" stroke="#333" stroke-width="0.75"/>
<line x1="184" y1="519.5" x2="253" y2="519.5" stroke="#333" stroke-width="0.75"/>
<line x1="183.5" y1="572.5" x2="258.8" y2="545.5" stroke="#333" stroke-width="0.75"/>
<line x1="183.5" y1="593" x2="253.5" y2="569" stroke="#333" stroke-width="0.75"/>
<line x1="183.5" y1="663.5" x2="243" y2="689.8" stroke="#333" stroke-width="0.75"/>
<line x1="183.5" y1="709" x2="249.5" y2="700.9" stroke="#333" stroke-width="0.75"/>
<line x1="183.5" y1="751" x2="253.3" y2="724.5" stroke="#333" stroke-width="0.75"/>
<line x1="183.5" y1="821.5" x2="252.5" y2="793" stroke="#333" stroke-width="0.75"/>
<line x1="386.5" y1="110.5" x2="455.5" y2="97.5" stroke="#333" stroke-width="0.75"/>
<line x1="405.5" y1="150.5" x2="455.5" y2="139.5" stroke="#333" stroke-width="0.75"/>
<line x1="386.5" y1="174.5" x2="455.5" y2="160" stroke="#333" stroke-width="0.75"/>
<line x1="401.5" y1="196" x2="455.5" y2="183" stroke="#333" stroke-width="0.75"/>
<line x1="386.5" y1="220.5" x2="455.5" y2="207" stroke="#333" stroke-width="0.75"/>
<line x1="401.5" y1="244.5" x2="455.5" y2="234" stroke="#333" stroke-width="0.75"/>
<line x1="396" y1="287.5" x2="455.5" y2="274" stroke="#333" stroke-width="0.75"/>
<line x1="401" y1="356" x2="455.5" y2="344" stroke="#333" stroke-width="0.75"/>
<line x1="401.5" y1="416" x2="455.5" y2="403.5" stroke="#333" stroke-width="0.75"/>
<line x1="400.5" y1="455" x2="455.5" y2="444" stroke="#333" stroke-width="0.75"/>
<line x1="401.5" y1="492" x2="455.5" y2="481" stroke="#333" stroke-width="0.75"/>
<line x1="391" y1="539.2" x2="456.5" y2="539.2" stroke="#333" stroke-width="0.75"/>
<line x1="384.5" y1="577.5" x2="455.5" y2="597" stroke="#333" stroke-width="0.75"/>
<line x1="389" y1="601.5" x2="455.5" y2="619.5" stroke="#333" stroke-width="0.75"/>
<line x1="402" y1="724.5" x2="455.5" y2="705" stroke="#333" stroke-width="0.75"/>
<line x1="396.5" y1="737.5" x2="455.5" y2="749.5" stroke="#333" stroke-width="0.75"/>
<line x1="383" y1="748.5" x2="455.5" y2="792" stroke="#333" stroke-width="0.75"/>
<line x1="393.5" y1="815" x2="455.5" y2="847" stroke="#333" stroke-width="0.75"/>
<polyline points="239,839.5 246,877 279.5,868" fill="none" stroke="#333" stroke-width="0.75"/>
<polyline points="358,839.5 372.6,878 400,866" fill="none" stroke="#333" stroke-width="0.75"/>
<text transform="translate(176.5,102) scale(1,1.13)" font-size="12" text-anchor="end" font-weight="normal" fill="#000" >SPHERICAL NUT</text>
<text transform="translate(176.5,140) scale(1,1.13)" font-size="12" text-anchor="end" font-weight="normal" fill="#000" >UPPER MOUNT ASSY</text>
<text transform="translate(176.5,163) scale(1,1.13)" font-size="12" text-anchor="end" font-weight="normal" fill="#000" >SPHERICAL COLLAR (Thick)</text>
<text transform="translate(176.5,185) scale(1,1.13)" font-size="12" text-anchor="end" font-weight="normal" fill="#000" >SPRING RETAINER</text>
<text transform="translate(176.5,206.5) scale(1,1.13)" font-size="12" text-anchor="end" font-weight="normal" fill="#000" >SPHERICAL COLLAR (Thin)</text>
<text transform="translate(176.5,230) scale(1,1.13)" font-size="12" text-anchor="end" font-weight="normal" fill="#000" >RUBBER SEAT</text>
<text transform="translate(176.5,267.5) scale(1,1.13)" font-size="12" text-anchor="end" font-weight="normal" fill="#000" >DUST BOOT</text>
<text transform="translate(176.5,333) scale(1,1.13)" font-size="12" text-anchor="end" font-weight="normal" fill="#000" >SPRING</text>
<text transform="translate(176.5,397) scale(1,1.13)" font-size="12" text-anchor="end" font-weight="normal" fill="#000" >SPRING SEAT</text>
<text transform="translate(176.5,432) scale(1,1.13)" font-size="12" text-anchor="end" font-weight="normal" fill="#000" >HELPER SPRING</text>
<text transform="translate(176.5,467) scale(1,1.13)" font-size="12" text-anchor="end" font-weight="normal" fill="#000" >INSULATOR</text>
<text transform="translate(176.5,577) scale(1,1.13)" font-size="12" text-anchor="end" font-weight="normal" fill="#000" >C-RING</text>
<text transform="translate(176.5,597) scale(1,1.13)" font-size="12" text-anchor="end" font-weight="normal" fill="#000" >BUMP RUBBER</text>
<text transform="translate(176.5,667) scale(1,1.13)" font-size="12" text-anchor="end" font-weight="normal" fill="#000" >RIDE HEIGHT ADJUSTER</text>
<text transform="translate(176.5,713) scale(1,1.13)" font-size="12" text-anchor="end" font-weight="normal" fill="#000" >LOCKING SPRING</text>
<text transform="translate(176.5,755) scale(1,1.13)" font-size="12" text-anchor="end" font-weight="normal" fill="#000" >LOCKING BRACKET</text>
<text transform="translate(176.5,825) scale(1,1.13)" font-size="12" text-anchor="end" font-weight="normal" fill="#000" >BRACKET</text>
<rect x="64.5" y="106.9" width="111.5" height="17.3" fill="#fff" stroke="#000" stroke-width="1"/>
<text transform="translate(68,119.2) scale(1,1.1)" font-size="12" text-anchor="start" font-weight="normal" fill="#000" >Torque Specs: 25N·m</text>
<rect x="57.5" y="720" width="118.8" height="17.5" fill="#fff" stroke="#000" stroke-width="1"/>
<text transform="translate(61,732.5) scale(1,1.1)" font-size="12" text-anchor="start" font-weight="normal" fill="#000" >Torque Specs: 50N·m*</text>
<rect x="57.5" y="760.2" width="118.8" height="18" fill="#fff" stroke="#000" stroke-width="1"/>
<text transform="translate(61,773.2) scale(1,1.1)" font-size="12" text-anchor="start" font-weight="normal" fill="#000" >Torque Specs: 50N·m*</text>
<rect x="23.9" y="478.9" width="159.6" height="81.4" rx="7" ry="7" fill="#fff" stroke="#000" stroke-width="1.1"/>
<text transform="translate(31.4,497.9) scale(1,1.08)" font-size="12.1" text-anchor="start" font-weight="normal" fill="#000" >BUMP STOP PLATE</text>
<text transform="translate(33.2,512) scale(1,1.08)" font-size="10" text-anchor="start" font-weight="normal" fill="#000" letter-spacing="-0.15">Make sure to install this plate in the</text>
<text transform="translate(33.2,524.6) scale(1,1.08)" font-size="10" text-anchor="start" font-weight="normal" fill="#000" letter-spacing="-0.15">proper direction.</text>
<text transform="translate(33.2,537.2) scale(1,1.08)" font-size="10" text-anchor="start" font-weight="normal" fill="#555" >(The side with a groove must face</text>
<text transform="translate(33.2,549.8) scale(1,1.08)" font-size="10" text-anchor="start" font-weight="normal" fill="#000" letter-spacing="-0.15">toward the C-ring.)</text>
<text transform="translate(463,102.3) scale(1,1.13)" font-size="12" text-anchor="start" font-weight="normal" fill="#000" >SPHERICAL NUT</text>
<text transform="translate(463,144) scale(1,1.13)" font-size="12" text-anchor="start" font-weight="normal" fill="#000" >UPPER MOUNT ASSY</text>
<text transform="translate(463,164) scale(1,1.13)" font-size="12" text-anchor="start" font-weight="normal" fill="#000" >SPHERICAL COLLAR (Thick)</text>
<text transform="translate(463,187) scale(1,1.13)" font-size="12" text-anchor="start" font-weight="normal" fill="#000" >SPRING RETAINER</text>
<text transform="translate(463,211) scale(1,1.13)" font-size="12" text-anchor="start" font-weight="normal" fill="#000" >SPHERICAL COLLAR (Thin)</text>
<text transform="translate(463,237.5) scale(1,1.13)" font-size="12" text-anchor="start" font-weight="normal" fill="#000" >RUBBER SEAT</text>
<text transform="translate(463,278) scale(1,1.13)" font-size="12" text-anchor="start" font-weight="normal" fill="#000" >DUST BOOT</text>
<text transform="translate(463,348.7) scale(1,1.13)" font-size="12" text-anchor="start" font-weight="normal" fill="#000" >SPRING</text>
<text transform="translate(463,408) scale(1,1.13)" font-size="12" text-anchor="start" font-weight="normal" fill="#000" >SPRING SEAT</text>
<text transform="translate(463,448) scale(1,1.13)" font-size="12" text-anchor="start" font-weight="normal" fill="#000" >HELPER SPRING</text>
<text transform="translate(463,484.6) scale(1,1.13)" font-size="12" text-anchor="start" font-weight="normal" fill="#000" >INSULATOR</text>
<text transform="translate(463,601) scale(1,1.13)" font-size="12" text-anchor="start" font-weight="normal" fill="#000" >C-RING</text>
<text transform="translate(463,623.5) scale(1,1.13)" font-size="12" text-anchor="start" font-weight="normal" fill="#000" >BUMP RUBBER</text>
<text transform="translate(463,708.6) scale(1,1.13)" font-size="12" text-anchor="start" font-weight="normal" fill="#000" >RIDE HEIGHT ADJUSTER</text>
<text transform="translate(463,753.3) scale(1,1.13)" font-size="12" text-anchor="start" font-weight="normal" fill="#000" >LOCKING SPRING</text>
<text transform="translate(463,796.3) scale(1,1.13)" font-size="12" text-anchor="start" font-weight="normal" fill="#000" >LOCKING BRACKET</text>
<text transform="translate(463,851.3) scale(1,1.13)" font-size="12" text-anchor="start" font-weight="normal" fill="#000" >BRACKET</text>
<rect x="463.5" y="107.3" width="111.4" height="17.9" fill="#fff" stroke="#000" stroke-width="1"/>
<text transform="translate(467,120.2) scale(1,1.1)" font-size="12" text-anchor="start" font-weight="normal" fill="#000" >Torque Specs: 25N·m</text>
<rect x="463.5" y="758.9" width="118.3" height="18.6" fill="#fff" stroke="#000" stroke-width="1"/>
<text transform="translate(467,772.5) scale(1,1.1)" font-size="12" text-anchor="start" font-weight="normal" fill="#000" >Torque Specs: 50N·m*</text>
<rect x="463.5" y="801.5" width="118.3" height="18.3" fill="#fff" stroke="#000" stroke-width="1"/>
<text transform="translate(467,814.8) scale(1,1.1)" font-size="12" text-anchor="start" font-weight="normal" fill="#000" >Torque Specs: 50N·m*</text>
<rect x="456.8" y="498.9" width="159.3" height="80.3" rx="7" ry="7" fill="#fff" stroke="#000" stroke-width="1.1"/>
<text transform="translate(464.3,517.9) scale(1,1.08)" font-size="12.1" text-anchor="start" font-weight="normal" fill="#000" >BUMP STOP PLATE</text>
<text transform="translate(466.1,532) scale(1,1.08)" font-size="10" text-anchor="start" font-weight="normal" fill="#000" letter-spacing="-0.15">Make sure to install this plate in the</text>
<text transform="translate(466.1,544.6) scale(1,1.08)" font-size="10" text-anchor="start" font-weight="normal" fill="#000" letter-spacing="-0.15">proper direction.</text>
<text transform="translate(466.1,557.2) scale(1,1.08)" font-size="10" text-anchor="start" font-weight="normal" fill="#555" >(The side with a groove must face</text>
<text transform="translate(466.1,569.8) scale(1,1.08)" font-size="10" text-anchor="start" font-weight="normal" fill="#000" letter-spacing="-0.15">toward the C-ring.)</text>
<text transform="translate(235.3,891.3) scale(1,1.1)" font-size="12.3" text-anchor="start" font-weight="normal" fill="#000" >SPACER (KIT PARTS)</text>
<text transform="translate(362.2,891.3) scale(1,1.1)" font-size="12.3" text-anchor="start" font-weight="normal" fill="#000" >SPACER (KIT PARTS)</text>
<text transform="translate(31.3,879.5) scale(1,1.08)" font-size="10" text-anchor="start" font-weight="normal" fill="#000" letter-spacing="-0.17">* Torque value when tightened with the</text>
<text transform="translate(40.6,891.8) scale(1,1.08)" font-size="10.1" text-anchor="start" font-weight="normal" fill="#555" >provided Spanner Wrench (12.7sq Slotted).</text>
</svg>
</body></html>
